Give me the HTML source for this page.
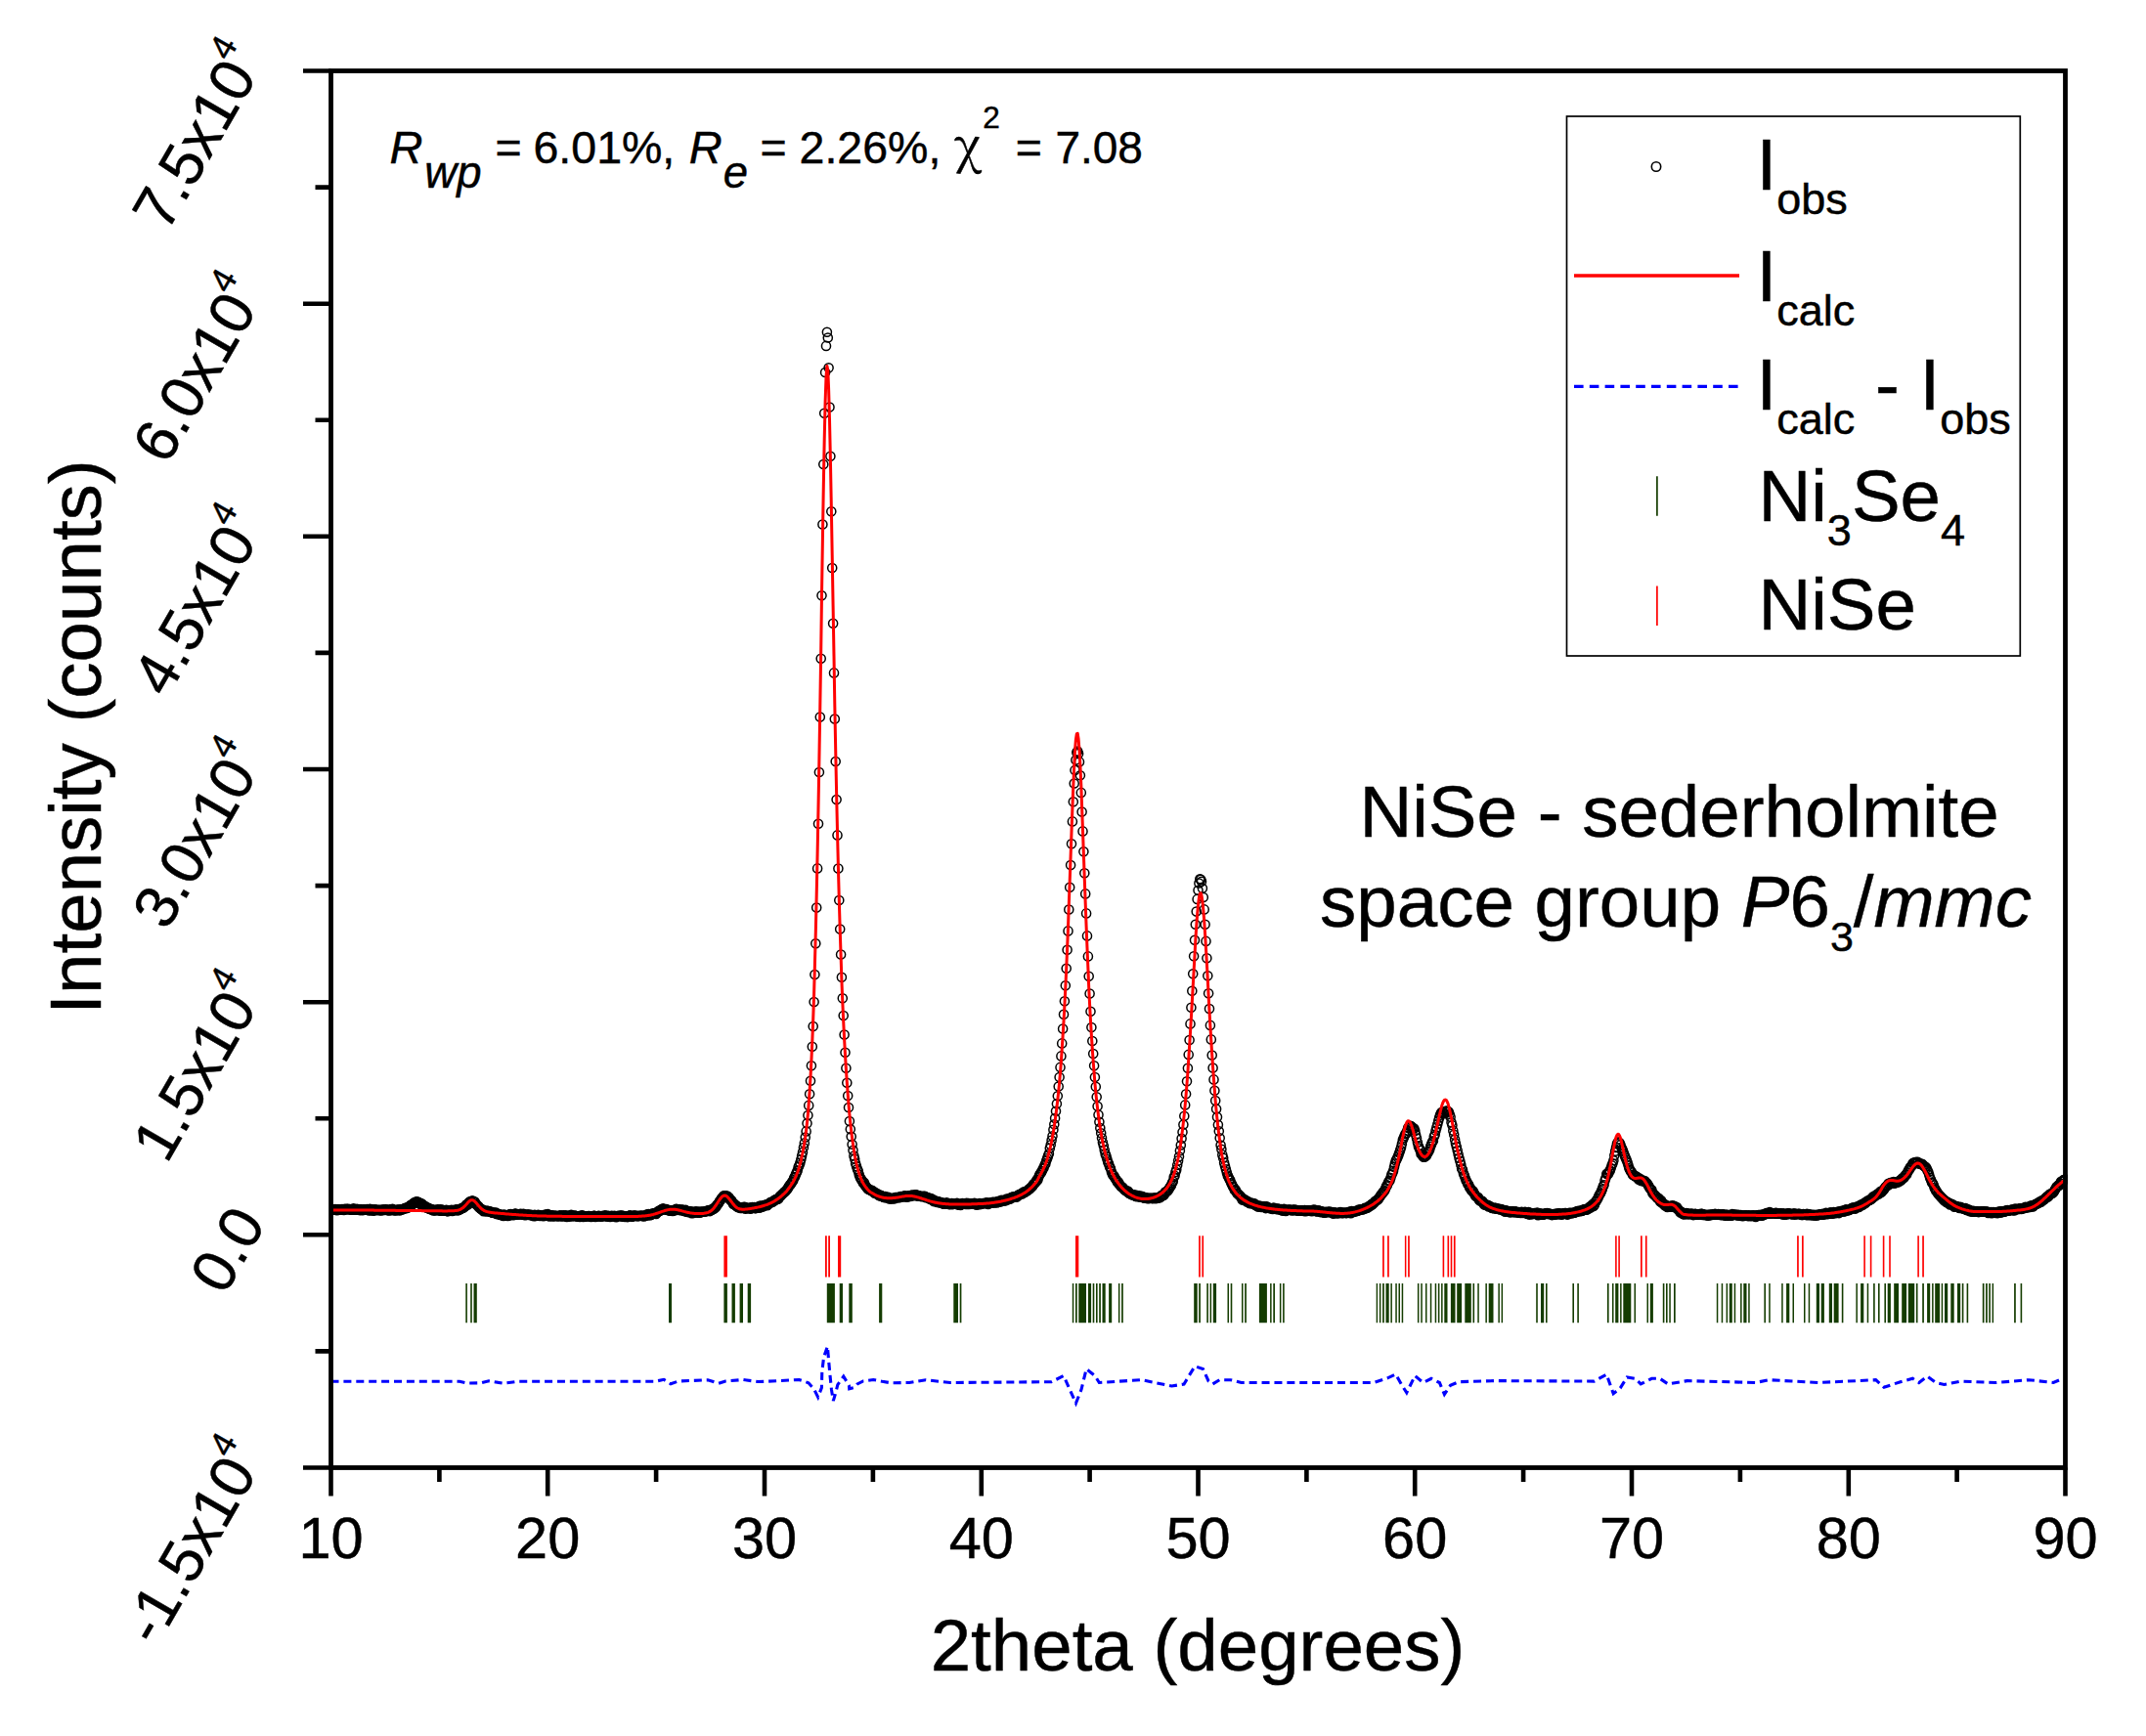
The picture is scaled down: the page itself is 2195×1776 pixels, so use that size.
<!DOCTYPE html>
<html lang="en"><head><meta charset="utf-8"><title>NiSe Rietveld refinement</title>
<style>html,body{margin:0;padding:0;background:#fff}body{width:2195px;height:1776px;overflow:hidden}svg{display:block}text{font-family:"Liberation Sans",sans-serif;fill:#000;stroke:#000;stroke-width:0.45px}.i{font-style:italic}</style></head><body>
<svg width="2195" height="1776" viewBox="0 0 2195 1776">
<rect width="2195" height="1776" fill="#fff"/>
<defs><marker id="c" markerUnits="userSpaceOnUse" markerWidth="14" markerHeight="14" refX="7" refY="7" overflow="visible"><circle cx="7" cy="7" r="4.55" fill="none" stroke="#000" stroke-width="1.5"/></marker><clipPath id="cp"><rect x="338.5" y="72.5" width="1776.5" height="1429.0"/></clipPath></defs>
<g clip-path="url(#cp)"><polyline fill="none" stroke="none" marker-start="url(#c)" marker-mid="url(#c)" marker-end="url(#c)" points="338.5,1237.6 339.4,1237.7 340.3,1237.5 341.2,1237.2 342,1237.4 342.9,1237.1 343.8,1237.6 344.7,1238.3 345.6,1237.4 346.5,1237.3 347.4,1237.8 348.3,1237.8 349.1,1237.7 350,1237.1 350.9,1237.6 351.8,1238 352.7,1236.9 353.6,1237.4 354.5,1236.7 355.4,1237 356.2,1236.7 357.1,1237.5 358,1237 358.9,1237.8 359.8,1237.7 360.7,1237.5 361.6,1236.4 362.4,1237.4 363.3,1237.6 364.2,1237.7 365.1,1236.9 366,1237.4 366.9,1237.2 367.8,1237.3 368.7,1238.2 369.5,1237.3 370.4,1237.7 371.3,1238.1 372.2,1237.4 373.1,1237.6 374,1237.7 374.9,1237.7 375.8,1237.1 376.6,1237.7 377.5,1238.4 378.4,1236.9 379.3,1238.2 380.2,1237.8 381.1,1237.4 382,1238.7 382.9,1238.1 383.7,1237.2 384.6,1237.8 385.5,1238.1 386.4,1237.7 387.3,1238.1 388.2,1237.8 389.1,1238.1 389.9,1238.5 390.8,1237.5 391.7,1237.9 392.6,1237.6 393.5,1237.9 394.4,1237.3 395.3,1237.6 396.2,1237.8 397,1238.3 397.9,1238.5 398.8,1237.2 399.7,1237.5 400.6,1238.2 401.5,1236.9 402.4,1237.7 403.3,1237.9 404.1,1238.5 405,1238.2 405.9,1237.7 406.8,1237.6 407.7,1237.7 408.6,1238.5 409.5,1237.4 410.3,1237.3 411.2,1237.5 412.1,1237.1 413,1236.8 413.9,1236 414.8,1236.2 415.7,1235.5 416.6,1235.9 417.4,1235.1 418.3,1234.2 419.2,1233.9 420.1,1232.8 421,1232.9 421.9,1231.8 422.8,1231.6 423.7,1230.2 424.5,1230.7 425.4,1229.5 426.3,1229.2 427.2,1230.1 428.1,1229.9 429,1230.7 429.9,1232.1 430.7,1231.1 431.6,1231.7 432.5,1232.7 433.4,1233.5 434.3,1233.8 435.2,1234.4 436.1,1235.4 437,1235.8 437.8,1235.6 438.7,1236.5 439.6,1236.9 440.5,1236.7 441.4,1237.6 442.3,1237.3 443.2,1238.4 444.1,1238.1 444.9,1238.2 445.8,1237.9 446.7,1238.2 447.6,1237.3 448.5,1237.8 449.4,1238.6 450.3,1237.3 451.1,1238.8 452,1237.6 452.9,1238.8 453.8,1238 454.7,1238.8 455.6,1238.5 456.5,1237.7 457.4,1239.1 458.2,1239.2 459.1,1238.4 460,1238.3 460.9,1238.3 461.8,1237.9 462.7,1238.9 463.6,1238.1 464.5,1238.2 465.3,1237.8 466.2,1237.8 467.1,1237.3 468,1238.4 468.9,1237.5 469.8,1237.8 470.7,1237.1 471.6,1236.4 472.4,1236.3 473.3,1235.7 474.2,1235.4 475.1,1234.6 476,1233.9 476.9,1232.6 477.8,1232.1 478.6,1232.4 479.5,1230.3 480.4,1229.4 481.3,1229.5 482.2,1229.7 483.1,1228.2 484,1229 484.9,1229.3 485.7,1229.5 486.6,1231.7 487.5,1232.3 488.4,1233.4 489.3,1234 490.2,1235.6 491.1,1236.1 492,1237.1 492.8,1237.2 493.7,1237.6 494.6,1239.2 495.5,1238.6 496.4,1239.1 497.3,1239.1 498.2,1238.9 499,1238.9 499.9,1239.5 500.8,1239.3 501.7,1239.6 502.6,1240 503.5,1240.8 504.4,1240.8 505.3,1240.9 506.1,1240.7 507,1240.5 507.9,1241.9 508.8,1242.1 509.7,1241.8 510.6,1242.3 511.5,1242.7 512.4,1242.9 513.2,1243.2 514.1,1242.7 515,1243.9 515.9,1242.5 516.8,1243.5 517.7,1243.3 518.6,1243.4 519.4,1243.9 520.3,1243.6 521.2,1242.3 522.1,1242 523,1243.2 523.9,1242.2 524.8,1242.7 525.7,1243.1 526.5,1241.8 527.4,1241.5 528.3,1242.6 529.2,1242.5 530.1,1242.3 531,1242.5 531.9,1242.1 532.8,1241.8 533.6,1242.6 534.5,1242.2 535.4,1241.9 536.3,1243.1 537.2,1242.8 538.1,1243.1 539,1242.5 539.8,1242.7 540.7,1242.6 541.6,1242.7 542.5,1243.3 543.4,1242.8 544.3,1243.4 545.2,1243.5 546.1,1244.3 546.9,1242.7 547.8,1243.9 548.7,1243.4 549.6,1243.5 550.5,1242.8 551.4,1243.3 552.3,1243.9 553.2,1243.6 554,1243.7 554.9,1243.5 555.8,1244.3 556.7,1243.7 557.6,1242.6 558.5,1243.4 559.4,1242.8 560.3,1242.1 561.1,1243.5 562,1244.5 562.9,1243.8 563.8,1243.2 564.7,1243.4 565.6,1244.4 566.5,1243.9 567.3,1243.9 568.2,1243.8 569.1,1243.9 570,1244.3 570.9,1244.2 571.8,1244 572.7,1243.4 573.6,1244.2 574.4,1243.6 575.3,1244.5 576.2,1243.3 577.1,1243.9 578,1244 578.9,1243.3 579.8,1244.9 580.7,1244.7 581.5,1243.8 582.4,1244.4 583.3,1244.2 584.2,1242.7 585.1,1244.2 586,1244 586.9,1244.1 587.7,1243.5 588.6,1243.9 589.5,1244 590.4,1244.7 591.3,1244.3 592.2,1244.1 593.1,1244.9 594,1243.8 594.8,1243.9 595.7,1243.2 596.6,1244.9 597.5,1244.6 598.4,1244.6 599.3,1244.5 600.2,1244.2 601.1,1244.3 601.9,1244 602.8,1244.1 603.7,1244.2 604.6,1244.9 605.5,1244.5 606.4,1244.2 607.3,1243.9 608.1,1243.9 609,1245 609.9,1244.5 610.8,1244.2 611.7,1244 612.6,1243.7 613.5,1244.2 614.4,1244.7 615.2,1244 616.1,1244.1 617,1244.1 617.9,1244.3 618.8,1243.4 619.7,1244.1 620.6,1243.8 621.5,1244.7 622.3,1243.8 623.2,1244.5 624.1,1245 625,1244.1 625.9,1243.9 626.8,1244.3 627.7,1244.2 628.5,1243.7 629.4,1244.4 630.3,1245.2 631.2,1244.1 632.1,1244.1 633,1243.7 633.9,1244.3 634.8,1243.6 635.6,1243.6 636.5,1244.8 637.4,1243.7 638.3,1244.7 639.2,1244.9 640.1,1244.3 641,1244.4 641.9,1245.1 642.7,1244 643.6,1243.8 644.5,1243.4 645.4,1244.1 646.3,1244.8 647.2,1244.6 648.1,1243.6 649,1243.6 649.8,1243.8 650.7,1244.1 651.6,1243.9 652.5,1244.1 653.4,1244.1 654.3,1243.7 655.2,1243.8 656,1243.9 656.9,1243.7 657.8,1243.9 658.7,1244.5 659.6,1243.8 660.5,1243.5 661.4,1242.5 662.3,1243.4 663.1,1242.1 664,1242.2 664.9,1243.2 665.8,1242.9 666.7,1242.3 667.6,1241.3 668.5,1241.8 669.4,1241.4 670.2,1241.7 671.1,1242 672,1240.5 672.9,1239.5 673.8,1238.8 674.7,1238.9 675.6,1238.3 676.4,1237.3 677.3,1237.4 678.2,1236.3 679.1,1237 680,1237.2 680.9,1237.6 681.8,1237.1 682.7,1238 683.5,1238 684.4,1238.3 685.3,1238.8 686.2,1238.6 687.1,1238.2 688,1239 688.9,1238.2 689.8,1238.1 690.6,1238.3 691.5,1236.8 692.4,1237.1 693.3,1237.5 694.2,1237.5 695.1,1237.3 696,1238.2 696.8,1238 697.7,1237.5 698.6,1237.8 699.5,1238.9 700.4,1238.9 701.3,1237.9 702.2,1239.7 703.1,1239.5 703.9,1240.1 704.8,1239.4 705.7,1239.5 706.6,1239.2 707.5,1241.2 708.4,1239.9 709.3,1240.9 710.2,1239.8 711,1240.3 711.9,1239.4 712.8,1240.1 713.7,1240.8 714.6,1239.6 715.5,1240.8 716.4,1240.4 717.2,1239.6 718.1,1239.8 719,1239.8 719.9,1239.8 720.8,1239.5 721.7,1239.2 722.6,1239.2 723.5,1238.6 724.3,1238.3 725.2,1238.8 726.1,1239.1 727,1237.6 727.9,1238 728.8,1237.2 729.7,1236.4 730.6,1236.5 731.4,1235 732.3,1235 733.2,1232.8 734.1,1232.3 735,1230.9 735.9,1229 736.8,1228.2 737.7,1226.4 738.5,1225.6 739.4,1224.4 740.3,1223.2 741.2,1223.2 742.1,1223.2 743,1224 743.9,1223.6 744.7,1224.9 745.6,1225 746.5,1227.2 747.4,1227.5 748.3,1228.3 749.2,1230.2 750.1,1231.9 751,1231.5 751.8,1232.6 752.7,1233.5 753.6,1233.9 754.5,1235.1 755.4,1234.8 756.3,1235.1 757.2,1235.9 758.1,1235.3 758.9,1235.9 759.8,1235.1 760.7,1235.1 761.6,1234.8 762.5,1236.7 763.4,1235.7 764.3,1236 765.1,1235.9 766,1236 766.9,1235.9 767.8,1236.8 768.7,1235.3 769.6,1235.1 770.5,1235.3 771.4,1235.1 772.2,1236.1 773.1,1236.1 774,1235.1 774.9,1234.8 775.8,1235.1 776.7,1235.8 777.6,1233.5 778.5,1234.9 779.3,1233.8 780.2,1234.6 781.1,1233.3 782,1233.4 782.9,1232.5 783.8,1232.5 784.7,1233.3 785.5,1232.6 786.4,1231.6 787.3,1230.9 788.2,1229.9 789.1,1230.1 790,1229.8 790.9,1229.2 791.8,1228.6 792.6,1227.5 793.5,1227.4 794.4,1226.8 795.3,1226.8 796.2,1226.4 797.1,1224.7 798,1223.6 798.9,1223.2 799.7,1222.1 800.6,1221.2 801.5,1220.6 802.4,1219.2 803.3,1219 804.2,1217.7 805.1,1216.8 805.9,1215.5 806.8,1214 807.7,1212.6 808.6,1211.7 809.5,1210.2 810.4,1209.1 811.3,1207.4 812.2,1205.1 813,1204 813.9,1201.4 814.8,1199.6 815.7,1197.5 816.6,1194 817.5,1192.3 818.4,1189.5 819.3,1186.3 820.1,1182.6 821,1178.7 821.9,1174 822.8,1169.4 823.7,1163.6 824.6,1157.4 825.5,1149.3 826.4,1141.1 827.2,1130.9 828.1,1119.3 829,1105.7 829.9,1090.3 830.8,1070.7 831.7,1050.1 832.6,1025 833.4,997.1 834.3,965.3 835.2,928.6 836.1,888.4 837,842.8 837.9,790 838.8,733.6 839.7,673.8 840.5,609.2 841.4,536.5 842.3,475 843.2,422.7 844.1,381 845,353.9 845.9,339.7 846.8,345.5 847.6,376.3 848.5,416.5 849.4,466.8 850.3,523.2 851.2,581.1 852.1,637.7 853,688.4 853.8,735.5 854.7,779 855.6,818 856.5,854.4 857.4,888.6 858.3,921 859.2,950.5 860.1,976.6 860.9,999.8 861.8,1021.2 862.7,1039 863.6,1058.6 864.5,1076.7 865.4,1092.8 866.3,1107.8 867.2,1121 868,1133 868.9,1147.1 869.8,1155.2 870.7,1162.7 871.6,1170.8 872.5,1176.8 873.4,1182.5 874.2,1185.8 875.1,1190.2 876,1193.3 876.9,1196 877.8,1198.1 878.7,1201.6 879.6,1204.3 880.5,1205.9 881.3,1207 882.2,1208.7 883.1,1210.4 884,1209.9 884.9,1212.5 885.8,1213.9 886.7,1214.9 887.6,1216.2 888.4,1216.7 889.3,1216.9 890.2,1217.5 891.1,1218.2 892,1217.9 892.9,1218.5 893.8,1219.5 894.6,1220.7 895.5,1220.2 896.4,1220.8 897.3,1221.5 898.2,1222.6 899.1,1222.4 900,1223.6 900.9,1222.8 901.7,1223.6 902.6,1223.9 903.5,1224.7 904.4,1225.1 905.3,1224.1 906.2,1224.6 907.1,1225.5 908,1225.2 908.8,1224.9 909.7,1226.4 910.6,1226.2 911.5,1226.3 912.4,1225.7 913.3,1226.4 914.2,1225.7 915.1,1226.2 915.9,1225.1 916.8,1225 917.7,1225.3 918.6,1224.7 919.5,1225.3 920.4,1224.9 921.3,1224.1 922.1,1224.4 923,1224 923.9,1224.4 924.8,1223.5 925.7,1223.4 926.6,1224.2 927.5,1224.6 928.4,1224.4 929.2,1223.4 930.1,1223.4 931,1224 931.9,1223 932.8,1222.5 933.7,1223.1 934.6,1223.2 935.5,1222.6 936.3,1222.2 937.2,1222.4 938.1,1223.6 939,1223 939.9,1223.4 940.8,1223.7 941.7,1224 942.5,1223.7 943.4,1224.2 944.3,1223.7 945.2,1224.1 946.1,1223.9 947,1225.2 947.9,1225 948.8,1225 949.6,1225.6 950.5,1226 951.4,1226.9 952.3,1226.1 953.2,1226.7 954.1,1227.3 955,1229.1 955.9,1228.6 956.7,1228.4 957.6,1229.1 958.5,1230 959.4,1229.2 960.3,1229.3 961.2,1230.4 962.1,1230.2 962.9,1230.5 963.8,1230.2 964.7,1231.6 965.6,1231.7 966.5,1231.3 967.4,1231.5 968.3,1230.3 969.2,1231.8 970,1231.5 970.9,1232 971.8,1232.2 972.7,1231.7 973.6,1231.1 974.5,1232.1 975.4,1231.6 976.3,1231.8 977.1,1231.7 978,1231.8 978.9,1230.8 979.8,1232.6 980.7,1232.1 981.6,1232.5 982.5,1232.9 983.3,1231.9 984.2,1231 985.1,1231.4 986,1231.3 986.9,1231.6 987.8,1231.9 988.7,1230.8 989.6,1232 990.4,1231 991.3,1231.9 992.2,1231.7 993.1,1231.6 994,1231.7 994.9,1231.4 995.8,1231.4 996.7,1230.8 997.5,1231.6 998.4,1232.5 999.3,1232.5 1000.2,1232.2 1001.1,1231.8 1002,1231.1 1002.9,1232.1 1003.8,1231.3 1004.6,1231.2 1005.5,1231.1 1006.4,1231.2 1007.3,1230.9 1008.2,1231 1009.1,1230.4 1010,1230.7 1010.8,1231.9 1011.7,1230.7 1012.6,1230.5 1013.5,1230.8 1014.4,1230.8 1015.3,1229.7 1016.2,1230.1 1017.1,1230.5 1017.9,1230 1018.8,1229.8 1019.7,1230.4 1020.6,1229.1 1021.5,1229.3 1022.4,1228.8 1023.3,1229.6 1024.2,1227.7 1025,1228.2 1025.9,1228 1026.8,1228.4 1027.7,1228.2 1028.6,1228.3 1029.5,1226.6 1030.4,1227.5 1031.2,1226.8 1032.1,1226.3 1033,1226.7 1033.9,1225.6 1034.8,1224.8 1035.7,1225.3 1036.6,1224.4 1037.5,1224.5 1038.3,1224.7 1039.2,1224.3 1040.1,1224.6 1041,1223.3 1041.9,1222.2 1042.8,1222.2 1043.7,1221.7 1044.6,1221.1 1045.4,1221.5 1046.3,1220.4 1047.2,1219.2 1048.1,1220 1049,1219 1049.9,1218.7 1050.8,1217.9 1051.6,1217.5 1052.5,1216.5 1053.4,1216.3 1054.3,1215.1 1055.2,1214.3 1056.1,1213.4 1057,1211.5 1057.9,1211.1 1058.7,1210 1059.6,1209.1 1060.5,1207.1 1061.4,1207.2 1062.3,1204.2 1063.2,1202.1 1064.1,1200.4 1065,1199.6 1065.8,1198 1066.7,1195.9 1067.6,1194.5 1068.5,1192 1069.4,1190.4 1070.3,1187.3 1071.2,1185 1072,1182.6 1072.9,1180.2 1073.8,1174.8 1074.7,1171.2 1075.6,1166.6 1076.5,1162.3 1077.4,1155.8 1078.3,1150.3 1079.1,1144.1 1080,1136.7 1080.9,1129.3 1081.8,1121.3 1082.7,1111.5 1083.6,1102.1 1084.5,1091.9 1085.4,1080.4 1086.2,1067.4 1087.1,1052.5 1088,1037.8 1088.9,1024.2 1089.8,1008.3 1090.7,990.8 1091.6,971.8 1092.5,952.4 1093.3,930.5 1094.2,907.8 1095.1,885.1 1096,863.2 1096.9,840.4 1097.8,820.2 1098.7,801.5 1099.5,787.9 1100.4,777.6 1101.3,769.8 1102.2,768.6 1103.1,771.1 1104,779.4 1104.9,793.3 1105.8,810.9 1106.6,830.6 1107.5,850.4 1108.4,871.2 1109.3,893.3 1110.2,914.4 1111.1,934.4 1112,957.4 1112.9,978.4 1113.7,998.8 1114.6,1016.5 1115.5,1034.7 1116.4,1051.1 1117.3,1065 1118.2,1078 1119.1,1090.2 1119.9,1102.1 1120.8,1111.7 1121.7,1122.2 1122.6,1131.8 1123.5,1140.6 1124.4,1147.8 1125.3,1154.1 1126.2,1159.2 1127,1164.3 1127.9,1168.7 1128.8,1172.3 1129.7,1176.6 1130.6,1180.5 1131.5,1182.7 1132.4,1186 1133.3,1189.2 1134.1,1190.8 1135,1193.8 1135.9,1195.3 1136.8,1198.4 1137.7,1200.9 1138.6,1202.5 1139.5,1203 1140.3,1205 1141.2,1206.2 1142.1,1207.5 1143,1209.5 1143.9,1209.3 1144.8,1211.6 1145.7,1212.2 1146.6,1213.9 1147.4,1214.3 1148.3,1214.8 1149.2,1216.1 1150.1,1217.2 1151,1217.6 1151.9,1218.6 1152.8,1218.7 1153.7,1218.5 1154.5,1220.6 1155.4,1221.1 1156.3,1221.3 1157.2,1221.8 1158.1,1222.6 1159,1222.2 1159.9,1222.4 1160.7,1223 1161.6,1223.9 1162.5,1222.8 1163.4,1224.3 1164.3,1223.5 1165.2,1223.4 1166.1,1224.8 1167,1224.2 1167.8,1223.7 1168.7,1224.4 1169.6,1225.3 1170.5,1225.7 1171.4,1225.1 1172.3,1225.7 1173.2,1226.1 1174.1,1225.5 1174.9,1226.1 1175.8,1226 1176.7,1225.8 1177.6,1225.8 1178.5,1226.1 1179.4,1226 1180.3,1225.6 1181.2,1225.5 1182,1226.2 1182.9,1225.6 1183.8,1225.7 1184.7,1225.5 1185.6,1224.9 1186.5,1225.3 1187.4,1223.4 1188.2,1223.7 1189.1,1222.5 1190,1223 1190.9,1222.2 1191.8,1219.6 1192.7,1219.3 1193.6,1219.1 1194.5,1218.1 1195.3,1216.9 1196.2,1215.2 1197.1,1214.1 1198,1212.6 1198.9,1210.3 1199.8,1208.5 1200.7,1204.3 1201.6,1202.8 1202.4,1198.9 1203.3,1196.4 1204.2,1191.9 1205.1,1187.4 1206,1183.2 1206.9,1177.3 1207.8,1171.5 1208.6,1164.7 1209.5,1158.3 1210.4,1150.6 1211.3,1141.8 1212.2,1130.4 1213.1,1119.3 1214,1106.3 1214.9,1092.8 1215.7,1078.9 1216.6,1064 1217.5,1047.4 1218.4,1030.8 1219.3,1013.7 1220.2,996.3 1221.1,978.3 1222,961.8 1222.8,945.8 1223.7,932.6 1224.6,919.9 1225.5,910.7 1226.4,903.5 1227.3,899.2 1228.2,899.8 1229,901.8 1229.9,908.7 1230.8,918 1231.7,930.4 1232.6,945.8 1233.5,962.9 1234.4,980.2 1235.3,998.2 1236.1,1016.2 1237,1032 1237.9,1048.9 1238.8,1063.4 1239.7,1079.5 1240.6,1092.5 1241.5,1104.4 1242.4,1115.7 1243.2,1126 1244.1,1134.5 1245,1142.8 1245.9,1150.8 1246.8,1157.2 1247.7,1164.2 1248.6,1171.5 1249.4,1175.7 1250.3,1181.4 1251.2,1184.8 1252.1,1189.6 1253,1192.9 1253.9,1196.2 1254.8,1199.4 1255.7,1202.6 1256.5,1204.2 1257.4,1206.3 1258.3,1207.6 1259.2,1210.3 1260.1,1211.7 1261,1214 1261.9,1215.1 1262.8,1217.5 1263.6,1217 1264.5,1219.1 1265.4,1220.9 1266.3,1221.4 1267.2,1222.3 1268.1,1223.6 1269,1224 1269.9,1225.6 1270.7,1227.5 1271.6,1227.4 1272.5,1226.9 1273.4,1227.6 1274.3,1228.3 1275.2,1229.5 1276.1,1229.1 1276.9,1229.6 1277.8,1230.8 1278.7,1231.2 1279.6,1231 1280.5,1230.9 1281.4,1231.1 1282.3,1231.8 1283.2,1231.4 1284,1233.1 1284.9,1232.7 1285.8,1233.5 1286.7,1234.5 1287.6,1234.4 1288.5,1233.5 1289.4,1234.7 1290.3,1235 1291.1,1234.3 1292,1234.4 1292.9,1235 1293.8,1234.4 1294.7,1236.1 1295.6,1234.3 1296.5,1235.1 1297.3,1235.7 1298.2,1235.8 1299.1,1236.2 1300,1236.3 1300.9,1236.2 1301.8,1237 1302.7,1235.5 1303.6,1236.7 1304.4,1236.4 1305.3,1236.9 1306.2,1237.1 1307.1,1236.6 1308,1236.8 1308.9,1237.6 1309.8,1237.5 1310.7,1237 1311.5,1238.4 1312.4,1238.6 1313.3,1236.8 1314.2,1237.8 1315.1,1238.9 1316,1238.1 1316.9,1237.9 1317.7,1237.7 1318.6,1237.6 1319.5,1237.8 1320.4,1237.7 1321.3,1238.4 1322.2,1237.9 1323.1,1237.9 1324,1237.6 1324.8,1238.2 1325.7,1237.8 1326.6,1238.2 1327.5,1238.8 1328.4,1238.5 1329.3,1238.6 1330.2,1238.6 1331.1,1238.4 1331.9,1238.4 1332.8,1238.3 1333.7,1238.9 1334.6,1238 1335.5,1239.2 1336.4,1238.6 1337.3,1238.2 1338.1,1238.3 1339,1238.2 1339.9,1238.7 1340.8,1238.3 1341.7,1239.2 1342.6,1238.3 1343.5,1237.6 1344.4,1238.4 1345.2,1237.8 1346.1,1238.9 1347,1239.5 1347.9,1239.3 1348.8,1238.4 1349.7,1238.8 1350.6,1240.1 1351.5,1239.5 1352.3,1239.4 1353.2,1240 1354.1,1240.8 1355,1240.4 1355.9,1239.9 1356.8,1240.1 1357.7,1240.3 1358.6,1239.8 1359.4,1239.6 1360.3,1240.3 1361.2,1239.9 1362.1,1240.4 1363,1240.6 1363.9,1241.7 1364.8,1240.2 1365.6,1240.7 1366.5,1240.7 1367.4,1241 1368.3,1241.4 1369.2,1240.7 1370.1,1240.5 1371,1240.1 1371.9,1240.5 1372.7,1241.3 1373.6,1241 1374.5,1240.5 1375.4,1240.7 1376.3,1240.9 1377.2,1241.1 1378.1,1240.5 1379,1240.6 1379.8,1239.7 1380.7,1239.9 1381.6,1241.2 1382.5,1239.1 1383.4,1239.9 1384.3,1240 1385.2,1239.5 1386,1239.1 1386.9,1239.2 1387.8,1239 1388.7,1238.7 1389.6,1237.5 1390.5,1238.1 1391.4,1237.5 1392.3,1237.3 1393.1,1237.4 1394,1237.2 1394.9,1237 1395.8,1235.9 1396.7,1236.3 1397.6,1236 1398.5,1235.5 1399.4,1235.2 1400.2,1234 1401.1,1233.5 1402,1233.5 1402.9,1231.9 1403.8,1232.2 1404.7,1231.2 1405.6,1230.6 1406.4,1229.1 1407.3,1228.5 1408.2,1228 1409.1,1227.5 1410,1226.5 1410.9,1224.9 1411.8,1223.7 1412.7,1222.2 1413.5,1221.6 1414.4,1220 1415.3,1219.1 1416.2,1218.3 1417.1,1215.9 1418,1213.6 1418.9,1212.4 1419.8,1210.3 1420.6,1208.5 1421.5,1207.7 1422.4,1205 1423.3,1201.7 1424.2,1200.3 1425.1,1197.8 1426,1193.9 1426.8,1190.5 1427.7,1187.4 1428.6,1185.9 1429.5,1183.9 1430.4,1181.8 1431.3,1179.3 1432.2,1176.5 1433.1,1173.7 1433.9,1170.3 1434.8,1166.3 1435.7,1164.2 1436.6,1162.1 1437.5,1159.9 1438.4,1159.4 1439.3,1156.7 1440.2,1153.8 1441,1153.4 1441.9,1152 1442.8,1151.7 1443.7,1152.5 1444.6,1153.6 1445.5,1154.5 1446.4,1154.5 1447.3,1157 1448.1,1161.1 1449,1164.6 1449.9,1168.7 1450.8,1172.4 1451.7,1174.5 1452.6,1176.7 1453.5,1180.6 1454.3,1181.3 1455.2,1182.5 1456.1,1183.8 1457,1183.7 1457.9,1182.6 1458.8,1182.5 1459.7,1180.6 1460.6,1178.9 1461.4,1177.7 1462.3,1175.8 1463.2,1172.7 1464.1,1170.6 1465,1168.2 1465.9,1167.2 1466.8,1162.7 1467.7,1160.7 1468.5,1156.8 1469.4,1153.4 1470.3,1150.3 1471.2,1146.8 1472.1,1143.5 1473,1140.7 1473.9,1138.8 1474.7,1137.8 1475.6,1137.8 1476.5,1138 1477.4,1139.3 1478.3,1137 1479.2,1136.5 1480.1,1136.7 1481,1136.9 1481.8,1137.6 1482.7,1140 1483.6,1142.7 1484.5,1148.2 1485.4,1151.3 1486.3,1156.7 1487.2,1160.8 1488.1,1165.8 1488.9,1169.7 1489.8,1173.2 1490.7,1177.1 1491.6,1181 1492.5,1184.7 1493.4,1187.9 1494.3,1191.5 1495.1,1195.5 1496,1196.7 1496.9,1200.4 1497.8,1202.4 1498.7,1205.2 1499.6,1207.7 1500.5,1209.2 1501.4,1211.5 1502.2,1212 1503.1,1214.9 1504,1215.5 1504.9,1217.5 1505.8,1218.5 1506.7,1218.4 1507.6,1220.4 1508.5,1222 1509.3,1223.7 1510.2,1224.1 1511.1,1225 1512,1225.1 1512.9,1227.4 1513.8,1228.4 1514.7,1228.3 1515.5,1228.9 1516.4,1228.9 1517.3,1230.9 1518.2,1232.4 1519.1,1232.1 1520,1232.9 1520.9,1233.1 1521.8,1232.9 1522.6,1234.5 1523.5,1233.7 1524.4,1234.6 1525.3,1235.2 1526.2,1235.9 1527.1,1235.9 1528,1236.2 1528.9,1235.9 1529.7,1235.9 1530.6,1236.8 1531.5,1236.7 1532.4,1236.6 1533.3,1236.9 1534.2,1237.5 1535.1,1237 1536,1237.5 1536.8,1237.5 1537.7,1238.6 1538.6,1238.8 1539.5,1239.8 1540.4,1238.2 1541.3,1238.7 1542.2,1239.6 1543,1239.2 1543.9,1239.3 1544.8,1240.4 1545.7,1239.5 1546.6,1239.2 1547.5,1239.2 1548.4,1240.1 1549.3,1240.2 1550.1,1239.4 1551,1239.7 1551.9,1240.5 1552.8,1240.6 1553.7,1240.1 1554.6,1240.8 1555.5,1240.9 1556.4,1239.8 1557.2,1240.6 1558.1,1241 1559,1240.6 1559.9,1239.9 1560.8,1240.9 1561.7,1241.5 1562.6,1241.9 1563.4,1240.1 1564.3,1242.6 1565.2,1240.8 1566.1,1241.9 1567,1242.1 1567.9,1242 1568.8,1241.6 1569.7,1241 1570.5,1242 1571.4,1241.3 1572.3,1240.5 1573.2,1243.2 1574.1,1242.2 1575,1242.8 1575.9,1241.4 1576.8,1242.7 1577.6,1242.7 1578.5,1242.8 1579.4,1242 1580.3,1241.4 1581.2,1242 1582.1,1241 1583,1241.2 1583.8,1242.1 1584.7,1241.6 1585.6,1242 1586.5,1242.1 1587.4,1243.1 1588.3,1242.8 1589.2,1242.1 1590.1,1242.7 1590.9,1241.7 1591.8,1241.9 1592.7,1242.5 1593.6,1241.4 1594.5,1241.9 1595.4,1241.3 1596.3,1242 1597.2,1242.7 1598,1241.5 1598.9,1241.9 1599.8,1241.3 1600.7,1241.1 1601.6,1241 1602.5,1242.2 1603.4,1242.6 1604.2,1241.6 1605.1,1240.9 1606,1241.5 1606.9,1240.8 1607.8,1241.3 1608.7,1240.9 1609.6,1240.7 1610.5,1240.8 1611.3,1240 1612.2,1239.9 1613.1,1239.1 1614,1239.5 1614.9,1238.8 1615.8,1239.2 1616.7,1238.6 1617.6,1238.9 1618.4,1238.8 1619.3,1237.5 1620.2,1237.5 1621.1,1237.1 1622,1237.6 1622.9,1237.7 1623.8,1236.9 1624.7,1235.8 1625.5,1236.3 1626.4,1234.3 1627.3,1235.2 1628.2,1233.6 1629.1,1231.9 1630,1233.9 1630.9,1232.4 1631.7,1229.8 1632.6,1229 1633.5,1227.3 1634.4,1225.9 1635.3,1223.4 1636.2,1222 1637.1,1220.6 1638,1218.4 1638.8,1216.6 1639.7,1213.7 1640.6,1212.2 1641.5,1207.8 1642.4,1205.2 1643.3,1201 1644.2,1200.6 1645.1,1200.9 1645.9,1198.4 1646.8,1197.4 1647.7,1195 1648.6,1192.3 1649.5,1190.2 1650.4,1187.2 1651.3,1182 1652.1,1177.8 1653,1173.9 1653.9,1170.3 1654.8,1168.5 1655.7,1168.6 1656.6,1169.2 1657.5,1171.3 1658.4,1173.9 1659.2,1175.4 1660.1,1177.6 1661,1180.3 1661.9,1182.5 1662.8,1184.8 1663.7,1186.8 1664.6,1189.3 1665.5,1192.2 1666.3,1195.2 1667.2,1196.7 1668.1,1198.4 1669,1199.3 1669.9,1201.8 1670.8,1201.9 1671.7,1203.1 1672.5,1202.9 1673.4,1204.1 1674.3,1203.9 1675.2,1205.1 1676.1,1206.8 1677,1205.5 1677.9,1207.6 1678.8,1208.1 1679.6,1207.4 1680.5,1207.7 1681.4,1208.4 1682.3,1208.1 1683.2,1209.6 1684.1,1210 1685,1211.3 1685.9,1212.6 1686.7,1214.2 1687.6,1215.6 1688.5,1217 1689.4,1217.2 1690.3,1220.4 1691.2,1221.4 1692.1,1222.4 1692.9,1222.9 1693.8,1224.1 1694.7,1225.3 1695.6,1226 1696.5,1225.7 1697.4,1227.5 1698.3,1229.5 1699.2,1228.2 1700,1230.6 1700.9,1231.3 1701.8,1231.8 1702.7,1233.3 1703.6,1232.6 1704.5,1233.9 1705.4,1235 1706.3,1234.5 1707.1,1234.1 1708,1234.2 1708.9,1233.7 1709.8,1234.7 1710.7,1233.4 1711.6,1234.5 1712.5,1233.8 1713.4,1235.3 1714.2,1235.6 1715.1,1235.1 1716,1237.2 1716.9,1237.5 1717.8,1238.7 1718.7,1240.5 1719.6,1239.8 1720.4,1240.4 1721.3,1242.1 1722.2,1241.6 1723.1,1242.4 1724,1241.7 1724.9,1241 1725.8,1241.4 1726.7,1242.2 1727.5,1242.2 1728.4,1241.8 1729.3,1241.9 1730.2,1241.9 1731.1,1241.7 1732,1243.1 1732.9,1242.2 1733.8,1241.7 1734.6,1242 1735.5,1242.7 1736.4,1242.7 1737.3,1242.4 1738.2,1242.1 1739.1,1242.5 1740,1241.7 1740.8,1241.9 1741.7,1243 1742.6,1242.4 1743.5,1242.8 1744.4,1243.3 1745.3,1243 1746.2,1242.7 1747.1,1243.8 1747.9,1243 1748.8,1242.5 1749.7,1243.1 1750.6,1242.9 1751.5,1242.3 1752.4,1242.7 1753.3,1242.6 1754.2,1241.7 1755,1242.7 1755.9,1242.6 1756.8,1242.6 1757.7,1242 1758.6,1242.7 1759.5,1242.9 1760.4,1243 1761.2,1242.4 1762.1,1243.3 1763,1242.4 1763.9,1243 1764.8,1243.8 1765.7,1242.8 1766.6,1242.9 1767.5,1243.7 1768.3,1243 1769.2,1243.1 1770.1,1243.3 1771,1243.8 1771.9,1242.1 1772.8,1242.9 1773.7,1242.8 1774.6,1242.8 1775.4,1242.9 1776.3,1242.9 1777.2,1243.5 1778.1,1242.9 1779,1243.5 1779.9,1243.6 1780.8,1243.1 1781.6,1243.5 1782.5,1244.3 1783.4,1243.7 1784.3,1243.2 1785.2,1243.6 1786.1,1243.2 1787,1243.8 1787.9,1244.1 1788.7,1243.3 1789.6,1243.6 1790.5,1244.3 1791.4,1243.6 1792.3,1243.9 1793.2,1243.3 1794.1,1243.5 1795,1243.7 1795.8,1245 1796.7,1243.5 1797.6,1243.3 1798.5,1243.1 1799.4,1243.1 1800.3,1243.4 1801.2,1242.9 1802.1,1243.7 1802.9,1242.6 1803.8,1243.1 1804.7,1242.3 1805.6,1242.3 1806.5,1241.1 1807.4,1241.6 1808.3,1241.4 1809.1,1241.1 1810,1240.1 1810.9,1241.7 1811.8,1241.1 1812.7,1241.1 1813.6,1241.3 1814.5,1241.3 1815.4,1241.7 1816.2,1240.9 1817.1,1241.1 1818,1241.8 1818.9,1241.7 1819.8,1241.5 1820.7,1241.5 1821.6,1241.4 1822.5,1241.8 1823.3,1242.5 1824.2,1241.4 1825.1,1242.7 1826,1242.4 1826.9,1241.8 1827.8,1242.5 1828.7,1241.4 1829.5,1241.3 1830.4,1241.5 1831.3,1242 1832.2,1242.1 1833.1,1242 1834,1242.4 1834.9,1241.3 1835.8,1242.6 1836.6,1241.7 1837.5,1242.1 1838.4,1242.2 1839.3,1241.9 1840.2,1241.8 1841.1,1242 1842,1242.5 1842.9,1242.9 1843.7,1242.9 1844.6,1242.1 1845.5,1242.2 1846.4,1242.2 1847.3,1242.9 1848.2,1241.7 1849.1,1243.3 1849.9,1242.5 1850.8,1242.3 1851.7,1242.9 1852.6,1243.3 1853.5,1242.9 1854.4,1243.3 1855.3,1242.8 1856.2,1243.4 1857,1243.4 1857.9,1242.7 1858.8,1243.5 1859.7,1242.9 1860.6,1242.8 1861.5,1242.2 1862.4,1242.4 1863.3,1242.8 1864.1,1241.7 1865,1242.6 1865.9,1242.3 1866.8,1242.2 1867.7,1240.9 1868.6,1241.8 1869.5,1242.1 1870.3,1241.3 1871.2,1241.6 1872.1,1240.3 1873,1241.7 1873.9,1240.9 1874.8,1241.6 1875.7,1240 1876.6,1241.2 1877.4,1240.5 1878.3,1240.9 1879.2,1239.9 1880.1,1239.8 1881,1241.1 1881.9,1239.3 1882.8,1239.2 1883.7,1239.2 1884.5,1238.6 1885.4,1239.5 1886.3,1239.5 1887.2,1238.1 1888.1,1237.4 1889,1238.6 1889.9,1238.3 1890.8,1238 1891.6,1237.9 1892.5,1236.7 1893.4,1236.8 1894.3,1235.9 1895.2,1235.6 1896.1,1236.5 1897,1235.4 1897.8,1236.6 1898.7,1235.1 1899.6,1234.4 1900.5,1234.8 1901.4,1234.9 1902.3,1233.9 1903.2,1232.6 1904.1,1233 1904.9,1233 1905.8,1231.6 1906.7,1230.9 1907.6,1231.3 1908.5,1230.3 1909.4,1229.1 1910.3,1228.8 1911.2,1228 1912,1227.9 1912.9,1227.2 1913.8,1227.1 1914.7,1226.2 1915.6,1224.4 1916.5,1224.7 1917.4,1224.1 1918.2,1223 1919.1,1222.8 1920,1221.8 1920.9,1221.2 1921.8,1221.6 1922.7,1220 1923.6,1218.8 1924.5,1219.7 1925.3,1218.2 1926.2,1217.8 1927.1,1216.6 1928,1215.2 1928.9,1214.1 1929.8,1213.4 1930.7,1212.8 1931.6,1210.8 1932.4,1211.7 1933.3,1210.2 1934.2,1209.9 1935.1,1210.6 1936,1210 1936.9,1209.1 1937.8,1210.7 1938.6,1209.2 1939.5,1209.6 1940.4,1209.3 1941.3,1209.6 1942.2,1208.2 1943.1,1208.5 1944,1207 1944.9,1207.2 1945.7,1205.5 1946.6,1204.8 1947.5,1205 1948.4,1203.1 1949.3,1201.8 1950.2,1201.6 1951.1,1199.3 1952,1197.3 1952.8,1196.7 1953.7,1194.2 1954.6,1193.9 1955.5,1192.4 1956.4,1190.2 1957.3,1189.6 1958.2,1189.6 1959,1189.3 1959.9,1188.8 1960.8,1189.8 1961.7,1188.9 1962.6,1190.5 1963.5,1190.5 1964.4,1190.6 1965.3,1191.1 1966.1,1190.8 1967,1192.3 1967.9,1192.7 1968.8,1193.4 1969.7,1194.1 1970.6,1195.2 1971.5,1197.5 1972.4,1199.2 1973.2,1202.1 1974.1,1204.9 1975,1207.1 1975.9,1209.5 1976.8,1210.6 1977.7,1212.2 1978.6,1215.2 1979.5,1216.6 1980.3,1218.6 1981.2,1219.3 1982.1,1221.1 1983,1222 1983.9,1223 1984.8,1223.9 1985.7,1224.9 1986.5,1225.7 1987.4,1226.7 1988.3,1228 1989.2,1227.9 1990.1,1229.6 1991,1229.3 1991.9,1230.4 1992.8,1230.4 1993.6,1230.9 1994.5,1232.5 1995.4,1231.8 1996.3,1231.8 1997.2,1232.5 1998.1,1233.1 1999,1234.7 1999.9,1234.1 2000.7,1234.7 2001.6,1234 2002.5,1234.9 2003.4,1235.2 2004.3,1236 2005.2,1234.9 2006.1,1235.9 2006.9,1236.1 2007.8,1235.8 2008.7,1236.7 2009.6,1236.9 2010.5,1236.1 2011.4,1237.9 2012.3,1238.1 2013.2,1237.8 2014,1237.6 2014.9,1239.2 2015.8,1238.8 2016.7,1239.4 2017.6,1239.7 2018.5,1238.9 2019.4,1239.6 2020.3,1239.2 2021.1,1239.3 2022,1239.4 2022.9,1239.5 2023.8,1240.1 2024.7,1239.6 2025.6,1239.5 2026.5,1239.4 2027.3,1239.8 2028.2,1239.2 2029.1,1239.4 2030,1239.7 2030.9,1239.5 2031.8,1239.8 2032.7,1239.6 2033.6,1240.9 2034.4,1240.6 2035.3,1240.2 2036.2,1240 2037.1,1241.2 2038,1240.3 2038.9,1240.1 2039.8,1240.3 2040.7,1240.4 2041.5,1240.9 2042.4,1240.2 2043.3,1241.1 2044.2,1239.5 2045.1,1240.2 2046,1239.3 2046.9,1240.6 2047.7,1239.4 2048.6,1239.4 2049.5,1239.8 2050.4,1239.8 2051.3,1238.5 2052.2,1238.8 2053.1,1238.1 2054,1238.8 2054.8,1238.5 2055.7,1238.3 2056.6,1237.9 2057.5,1237.9 2058.4,1237.6 2059.3,1238.1 2060.2,1238.4 2061.1,1236.6 2061.9,1237.3 2062.8,1237 2063.7,1237.3 2064.6,1236.5 2065.5,1236.7 2066.4,1236.2 2067.3,1236.9 2068.2,1236.4 2069,1236.1 2069.9,1236.2 2070.8,1235.7 2071.7,1234.8 2072.6,1235.6 2073.5,1235.2 2074.4,1234.7 2075.2,1235 2076.1,1235 2077,1233.6 2077.9,1233.6 2078.8,1234.5 2079.7,1234.2 2080.6,1232.8 2081.5,1232.2 2082.3,1232.1 2083.2,1231.7 2084.1,1230.7 2085,1231 2085.9,1229.8 2086.8,1229.3 2087.7,1229.7 2088.6,1228.3 2089.4,1228 2090.3,1227.6 2091.2,1227 2092.1,1225.8 2093,1225.2 2093.9,1224 2094.8,1224.6 2095.6,1223.3 2096.5,1221.8 2097.4,1221.6 2098.3,1221.2 2099.2,1220.4 2100.1,1220.3 2101,1219 2101.9,1216.9 2102.7,1215.9 2103.6,1214.1 2104.5,1213.7 2105.4,1212.5 2106.3,1212.7 2107.2,1210.5 2108.1,1208.7 2109,1208.7 2109.8,1208.4 2110.7,1207.1 2111.6,1206.8 2112.5,1206.5"/></g>
<polyline fill="none" stroke="#ff0000" stroke-width="3.0" stroke-linejoin="round" points="338.5,1238 339.4,1238 340.3,1238 341.2,1238 342,1238 342.9,1238 343.8,1238 344.7,1238 345.6,1238 346.5,1238 347.4,1238 348.3,1238 349.1,1238 350,1238 350.9,1238 351.8,1238 352.7,1238 353.6,1238 354.5,1238 355.4,1238 356.2,1238 357.1,1238 358,1238 358.9,1238 359.8,1238 360.7,1238 361.6,1238 362.4,1238 363.3,1238 364.2,1238 365.1,1238 366,1238.1 366.9,1238.1 367.8,1238.1 368.7,1238.1 369.5,1238.1 370.4,1238.1 371.3,1238.1 372.2,1238.1 373.1,1238.1 374,1238.1 374.9,1238.1 375.8,1238.1 376.6,1238.1 377.5,1238.1 378.4,1238.1 379.3,1238.1 380.2,1238.1 381.1,1238.1 382,1238.1 382.9,1238.2 383.7,1238.2 384.6,1238.2 385.5,1238.2 386.4,1238.2 387.3,1238.2 388.2,1238.2 389.1,1238.2 389.9,1238.2 390.8,1238.2 391.7,1238.2 392.6,1238.2 393.5,1238.2 394.4,1238.2 395.3,1238.3 396.2,1238.3 397,1238.3 397.9,1238.3 398.8,1238.3 399.7,1238.3 400.6,1238.3 401.5,1238.3 402.4,1238.3 403.3,1238.3 404.1,1238.3 405,1238.4 405.9,1238.4 406.8,1238.4 407.7,1238.4 408.6,1238.4 409.5,1238.4 410.3,1238.4 411.2,1238.4 412.1,1238.4 413,1238.4 413.9,1238.4 414.8,1238.5 415.7,1238.5 416.6,1238.5 417.4,1238.5 418.3,1238.5 419.2,1238.5 420.1,1238.5 421,1238.5 421.9,1238.5 422.8,1238.5 423.7,1238.6 424.5,1238.6 425.4,1238.6 426.3,1238.6 427.2,1238.6 428.1,1238.6 429,1238.6 429.9,1238.6 430.7,1238.6 431.6,1238.7 432.5,1238.7 433.4,1238.7 434.3,1238.7 435.2,1238.7 436.1,1238.7 437,1238.7 437.8,1238.7 438.7,1238.7 439.6,1238.7 440.5,1238.8 441.4,1238.8 442.3,1238.8 443.2,1238.8 444.1,1238.8 444.9,1238.8 445.8,1238.8 446.7,1238.8 447.6,1238.8 448.5,1238.8 449.4,1238.8 450.3,1238.8 451.1,1238.8 452,1238.8 452.9,1238.9 453.8,1238.9 454.7,1238.9 455.6,1238.9 456.5,1238.9 457.4,1238.9 458.2,1238.8 459.1,1238.8 460,1238.8 460.9,1238.8 461.8,1238.8 462.7,1238.8 463.6,1238.7 464.5,1238.7 465.3,1238.6 466.2,1238.5 467.1,1238.4 468,1238.2 468.9,1238 469.8,1237.7 470.7,1237.3 471.6,1236.9 472.4,1236.3 473.3,1235.7 474.2,1235 475.1,1234.1 476,1233.2 476.9,1232.3 477.8,1231.3 478.6,1230.3 479.5,1229.4 480.4,1228.6 481.3,1228 482.2,1227.7 483.1,1227.7 484,1227.9 484.9,1228.5 485.7,1229.2 486.6,1230.1 487.5,1231.1 488.4,1232.2 489.3,1233.3 490.2,1234.3 491.1,1235.2 492,1236.1 492.8,1236.9 493.7,1237.5 494.6,1238.1 495.5,1238.6 496.4,1239 497.3,1239.3 498.2,1239.6 499,1239.8 499.9,1240 500.8,1240.2 501.7,1240.3 502.6,1240.4 503.5,1240.6 504.4,1240.7 505.3,1240.8 506.1,1240.9 507,1240.9 507.9,1241 508.8,1241.1 509.7,1241.2 510.6,1241.3 511.5,1241.3 512.4,1241.4 513.2,1241.5 514.1,1241.6 515,1241.6 515.9,1241.7 516.8,1241.8 517.7,1241.9 518.6,1241.9 519.4,1242 520.3,1242.1 521.2,1242.2 522.1,1242.2 523,1242.3 523.9,1242.4 524.8,1242.4 525.7,1242.5 526.5,1242.6 527.4,1242.6 528.3,1242.7 529.2,1242.7 530.1,1242.8 531,1242.9 531.9,1242.9 532.8,1243 533.6,1243 534.5,1243.1 535.4,1243.2 536.3,1243.2 537.2,1243.3 538.1,1243.3 539,1243.4 539.8,1243.4 540.7,1243.5 541.6,1243.5 542.5,1243.6 543.4,1243.6 544.3,1243.7 545.2,1243.7 546.1,1243.7 546.9,1243.8 547.8,1243.8 548.7,1243.8 549.6,1243.9 550.5,1243.9 551.4,1243.9 552.3,1244 553.2,1244 554,1244 554.9,1244.1 555.8,1244.1 556.7,1244.1 557.6,1244.1 558.5,1244.1 559.4,1244.2 560.3,1244.2 561.1,1244.2 562,1244.2 562.9,1244.2 563.8,1244.2 564.7,1244.2 565.6,1244.2 566.5,1244.2 567.3,1244.3 568.2,1244.3 569.1,1244.3 570,1244.3 570.9,1244.3 571.8,1244.3 572.7,1244.3 573.6,1244.3 574.4,1244.3 575.3,1244.4 576.2,1244.4 577.1,1244.4 578,1244.4 578.9,1244.4 579.8,1244.4 580.7,1244.4 581.5,1244.4 582.4,1244.4 583.3,1244.4 584.2,1244.4 585.1,1244.4 586,1244.5 586.9,1244.5 587.7,1244.5 588.6,1244.5 589.5,1244.5 590.4,1244.5 591.3,1244.5 592.2,1244.5 593.1,1244.5 594,1244.5 594.8,1244.5 595.7,1244.5 596.6,1244.5 597.5,1244.5 598.4,1244.6 599.3,1244.6 600.2,1244.6 601.1,1244.6 601.9,1244.6 602.8,1244.6 603.7,1244.6 604.6,1244.6 605.5,1244.6 606.4,1244.6 607.3,1244.6 608.1,1244.6 609,1244.6 609.9,1244.6 610.8,1244.6 611.7,1244.6 612.6,1244.6 613.5,1244.6 614.4,1244.6 615.2,1244.6 616.1,1244.6 617,1244.6 617.9,1244.6 618.8,1244.6 619.7,1244.6 620.6,1244.6 621.5,1244.6 622.3,1244.6 623.2,1244.6 624.1,1244.6 625,1244.6 625.9,1244.6 626.8,1244.6 627.7,1244.6 628.5,1244.6 629.4,1244.6 630.3,1244.6 631.2,1244.6 632.1,1244.6 633,1244.6 633.9,1244.6 634.8,1244.6 635.6,1244.6 636.5,1244.6 637.4,1244.6 638.3,1244.6 639.2,1244.6 640.1,1244.6 641,1244.5 641.9,1244.5 642.7,1244.5 643.6,1244.5 644.5,1244.5 645.4,1244.5 646.3,1244.5 647.2,1244.5 648.1,1244.5 649,1244.4 649.8,1244.4 650.7,1244.4 651.6,1244.4 652.5,1244.4 653.4,1244.3 654.3,1244.3 655.2,1244.2 656,1244.2 656.9,1244.1 657.8,1244.1 658.7,1244 659.6,1243.9 660.5,1243.8 661.4,1243.7 662.3,1243.6 663.1,1243.5 664,1243.3 664.9,1243.2 665.8,1243 666.7,1242.8 667.6,1242.6 668.5,1242.3 669.4,1242.1 670.2,1241.8 671.1,1241.5 672,1241.3 672.9,1241 673.8,1240.6 674.7,1240.3 675.6,1240 676.4,1239.7 677.3,1239.4 678.2,1239.1 679.1,1238.8 680,1238.5 680.9,1238.2 681.8,1238 682.7,1237.8 683.5,1237.6 684.4,1237.4 685.3,1237.3 686.2,1237.2 687.1,1237.2 688,1237.2 688.9,1237.2 689.8,1237.3 690.6,1237.3 691.5,1237.5 692.4,1237.6 693.3,1237.8 694.2,1238 695.1,1238.2 696,1238.4 696.8,1238.6 697.7,1238.9 698.6,1239.1 699.5,1239.4 700.4,1239.6 701.3,1239.8 702.2,1240.1 703.1,1240.3 703.9,1240.5 704.8,1240.6 705.7,1240.8 706.6,1240.9 707.5,1241.1 708.4,1241.2 709.3,1241.3 710.2,1241.4 711,1241.4 711.9,1241.5 712.8,1241.5 713.7,1241.5 714.6,1241.5 715.5,1241.5 716.4,1241.5 717.2,1241.5 718.1,1241.4 719,1241.4 719.9,1241.3 720.8,1241.1 721.7,1241 722.6,1240.8 723.5,1240.6 724.3,1240.3 725.2,1239.9 726.1,1239.4 727,1238.9 727.9,1238.2 728.8,1237.4 729.7,1236.5 730.6,1235.4 731.4,1234.2 732.3,1233 733.2,1231.6 734.1,1230.2 735,1228.8 735.9,1227.5 736.8,1226.3 737.7,1225.2 738.5,1224.3 739.4,1223.6 740.3,1223.2 741.2,1223.1 742.1,1223.2 743,1223.6 743.9,1224.3 744.7,1225.2 745.6,1226.2 746.5,1227.3 747.4,1228.5 748.3,1229.7 749.2,1230.9 750.1,1232.1 751,1233.1 751.8,1234 752.7,1234.8 753.6,1235.5 754.5,1236 755.4,1236.4 756.3,1236.8 757.2,1237 758.1,1237.1 758.9,1237.2 759.8,1237.2 760.7,1237.2 761.6,1237.2 762.5,1237.1 763.4,1237 764.3,1236.9 765.1,1236.8 766,1236.7 766.9,1236.6 767.8,1236.4 768.7,1236.3 769.6,1236.1 770.5,1236 771.4,1235.8 772.2,1235.6 773.1,1235.5 774,1235.3 774.9,1235.1 775.8,1234.9 776.7,1234.7 777.6,1234.5 778.5,1234.3 779.3,1234 780.2,1233.8 781.1,1233.5 782,1233.2 782.9,1232.9 783.8,1232.6 784.7,1232.3 785.5,1232 786.4,1231.6 787.3,1231.2 788.2,1230.8 789.1,1230.4 790,1229.9 790.9,1229.5 791.8,1228.9 792.6,1228.4 793.5,1227.9 794.4,1227.3 795.3,1226.7 796.2,1226.1 797.1,1225.4 798,1224.7 798.9,1224 799.7,1223.2 800.6,1222.5 801.5,1221.6 802.4,1220.8 803.3,1219.9 804.2,1218.9 805.1,1217.9 805.9,1216.8 806.8,1215.7 807.7,1214.5 808.6,1213.2 809.5,1211.8 810.4,1210.4 811.3,1208.9 812.2,1207.3 813,1205.5 813.9,1203.6 814.8,1201.5 815.7,1199.2 816.6,1196.7 817.5,1193.9 818.4,1190.7 819.3,1187.3 820.1,1183.5 821,1179.3 821.9,1174.6 822.8,1169.3 823.7,1163.3 824.6,1156.5 825.5,1148.7 826.4,1139.6 827.2,1128.9 828.1,1116.5 829,1102 829.9,1085.2 830.8,1065.7 831.7,1043.1 832.6,1017.1 833.4,987.4 834.3,953.8 835.2,915.9 836.1,873.7 837,827.3 837.9,776.9 838.8,722.9 839.7,666.4 840.5,608.6 841.4,551.4 842.3,497.4 843.2,449.6 844.1,411.3 845,385.5 845.9,374.4 846.8,378.7 847.6,397.7 848.5,429.1 849.4,470.1 850.3,517.3 851.2,568.1 852.1,619.9 853,671.1 853.8,720.4 854.7,766.9 855.6,810.4 856.5,850.4 857.4,887.1 858.3,920.5 859.2,950.8 860.1,978.1 860.9,1002.7 861.8,1024.9 862.7,1044.8 863.6,1062.9 864.5,1079.1 865.4,1093.8 866.3,1107.1 867.2,1119.1 868,1130 868.9,1139.9 869.8,1148.8 870.7,1156.8 871.6,1164.1 872.5,1170.6 873.4,1176.4 874.2,1181.6 875.1,1186.3 876,1190.5 876.9,1194.2 877.8,1197.5 878.7,1200.4 879.6,1203 880.5,1205.3 881.3,1207.3 882.2,1209.2 883.1,1210.8 884,1212.3 884.9,1213.7 885.8,1214.9 886.7,1216 887.6,1217 888.4,1217.9 889.3,1218.7 890.2,1219.4 891.1,1220 892,1220.5 892.9,1221 893.8,1221.6 894.6,1222.1 895.5,1222.5 896.4,1223 897.3,1223.3 898.2,1223.7 899.1,1224 900,1224.3 900.9,1224.6 901.7,1224.8 902.6,1225 903.5,1225.2 904.4,1225.4 905.3,1225.5 906.2,1225.6 907.1,1225.7 908,1225.7 908.8,1225.8 909.7,1225.8 910.6,1225.8 911.5,1225.7 912.4,1225.7 913.3,1225.6 914.2,1225.5 915.1,1225.4 915.9,1225.3 916.8,1225.2 917.7,1225.1 918.6,1224.9 919.5,1224.8 920.4,1224.6 921.3,1224.4 922.1,1224.3 923,1224.1 923.9,1224 924.8,1223.9 925.7,1223.7 926.6,1223.6 927.5,1223.6 928.4,1223.5 929.2,1223.5 930.1,1223.5 931,1223.5 931.9,1223.6 932.8,1223.6 933.7,1223.7 934.6,1223.9 935.5,1224 936.3,1224.2 937.2,1224.4 938.1,1224.7 939,1224.9 939.9,1225.2 940.8,1225.5 941.7,1225.7 942.5,1226 943.4,1226.3 944.3,1226.6 945.2,1226.9 946.1,1227.2 947,1227.5 947.9,1227.8 948.8,1228.1 949.6,1228.3 950.5,1228.6 951.4,1228.9 952.3,1229.1 953.2,1229.3 954.1,1229.6 955,1229.8 955.9,1230 956.7,1230.2 957.6,1230.3 958.5,1230.5 959.4,1230.7 960.3,1230.8 961.2,1231 962.1,1231.1 962.9,1231.2 963.8,1231.3 964.7,1231.4 965.6,1231.5 966.5,1231.6 967.4,1231.7 968.3,1231.7 969.2,1231.8 970,1231.8 970.9,1231.9 971.8,1231.9 972.7,1231.9 973.6,1231.9 974.5,1232 975.4,1232 976.3,1232 977.1,1232 978,1232 978.9,1232 979.8,1232 980.7,1232 981.6,1232 982.5,1232 983.3,1232 984.2,1232 985.1,1232 986,1232 986.9,1232 987.8,1232 988.7,1231.9 989.6,1231.9 990.4,1231.9 991.3,1231.9 992.2,1231.9 993.1,1231.9 994,1231.8 994.9,1231.8 995.8,1231.8 996.7,1231.8 997.5,1231.7 998.4,1231.7 999.3,1231.7 1000.2,1231.6 1001.1,1231.6 1002,1231.6 1002.9,1231.5 1003.8,1231.5 1004.6,1231.4 1005.5,1231.4 1006.4,1231.3 1007.3,1231.2 1008.2,1231.2 1009.1,1231.1 1010,1231 1010.8,1230.9 1011.7,1230.9 1012.6,1230.8 1013.5,1230.7 1014.4,1230.6 1015.3,1230.5 1016.2,1230.4 1017.1,1230.2 1017.9,1230.1 1018.8,1230 1019.7,1229.8 1020.6,1229.7 1021.5,1229.5 1022.4,1229.4 1023.3,1229.2 1024.2,1229 1025,1228.8 1025.9,1228.6 1026.8,1228.4 1027.7,1228.2 1028.6,1228 1029.5,1227.8 1030.4,1227.6 1031.2,1227.3 1032.1,1227.1 1033,1226.8 1033.9,1226.5 1034.8,1226.2 1035.7,1225.9 1036.6,1225.6 1037.5,1225.3 1038.3,1225 1039.2,1224.6 1040.1,1224.3 1041,1223.9 1041.9,1223.5 1042.8,1223.1 1043.7,1222.7 1044.6,1222.2 1045.4,1221.8 1046.3,1221.3 1047.2,1220.8 1048.1,1220.2 1049,1219.7 1049.9,1219.1 1050.8,1218.4 1051.6,1217.8 1052.5,1217 1053.4,1216.3 1054.3,1215.5 1055.2,1214.7 1056.1,1213.8 1057,1212.8 1057.9,1211.8 1058.7,1210.7 1059.6,1209.6 1060.5,1208.4 1061.4,1207 1062.3,1204.7 1063.2,1203.3 1064.1,1201.8 1065,1200.3 1065.8,1198.7 1066.7,1196.9 1067.6,1195 1068.5,1193 1069.4,1190.7 1070.3,1188.3 1071.2,1185.6 1072,1182.7 1072.9,1179.5 1073.8,1175.9 1074.7,1172 1075.6,1167.7 1076.5,1163 1077.4,1158 1078.3,1152.5 1079.1,1146.5 1080,1140.1 1080.9,1133 1081.8,1125.3 1082.7,1116.7 1083.6,1107.4 1084.5,1097.1 1085.4,1085.7 1086.2,1073.3 1087.1,1059.7 1088,1044.8 1088.9,1028.5 1089.8,1010.7 1090.7,991.5 1091.6,970.8 1092.5,948.7 1093.3,925.3 1094.2,901 1095.1,876.1 1096,851.1 1096.9,826.9 1097.8,804.3 1098.7,784.4 1099.5,768.2 1100.4,756.7 1101.3,750.6 1102.2,750.3 1103.1,756 1104,767.2 1104.9,783.1 1105.8,802.8 1106.6,825.3 1107.5,849.5 1108.4,874.4 1109.3,899.5 1110.2,923.9 1111.1,947.5 1112,969.7 1112.9,990.6 1113.7,1010 1114.6,1028 1115.5,1044.5 1116.4,1059.6 1117.3,1073.4 1118.2,1086 1119.1,1097.5 1119.9,1107.9 1120.8,1117.4 1121.7,1126.1 1122.6,1134 1123.5,1141.2 1124.4,1147.7 1125.3,1153.7 1126.2,1159.1 1127,1164.1 1127.9,1168.6 1128.8,1172.8 1129.7,1176.6 1130.6,1180.1 1131.5,1183.3 1132.4,1186.3 1133.3,1189.1 1134.1,1191.6 1135,1194 1135.9,1196.2 1136.8,1198.3 1137.7,1200.2 1138.6,1202 1139.5,1203.7 1140.3,1205.2 1141.2,1206.7 1142.1,1208.1 1143,1209.5 1143.9,1210.7 1144.8,1211.9 1145.7,1213 1146.6,1214 1147.4,1215 1148.3,1215.9 1149.2,1216.8 1150.1,1217.7 1151,1218.4 1151.9,1219.2 1152.8,1219.9 1153.7,1220.6 1154.5,1221.2 1155.4,1221.8 1156.3,1222.3 1157.2,1222.8 1158.1,1223.3 1159,1223.7 1159.9,1224.1 1160.7,1224.5 1161.6,1224.9 1162.5,1225.2 1163.4,1225.5 1164.3,1225.7 1165.2,1225.9 1166.1,1226.1 1167,1226.3 1167.8,1226.4 1168.7,1226.5 1169.6,1226.5 1170.5,1226.6 1171.4,1226.6 1172.3,1226.5 1173.2,1226.5 1174.1,1226.4 1174.9,1226.3 1175.8,1226.2 1176.7,1226 1177.6,1225.8 1178.5,1225.6 1179.4,1225.3 1180.3,1225 1181.2,1224.7 1182,1224.3 1182.9,1223.9 1183.8,1223.5 1184.7,1223 1185.6,1222.5 1186.5,1221.9 1187.4,1221.3 1188.2,1220.7 1189.1,1219.9 1190,1219.1 1190.9,1218.3 1191.8,1217.4 1192.7,1216.3 1193.6,1215.2 1194.5,1214 1195.3,1212.7 1196.2,1211.3 1197.1,1209.7 1198,1207.9 1198.9,1206 1199.8,1203.8 1200.7,1201.4 1201.6,1198.8 1202.4,1195.8 1203.3,1192.5 1204.2,1188.8 1205.1,1184.7 1206,1180.1 1206.9,1175 1207.8,1169.3 1208.6,1162.9 1209.5,1155.9 1210.4,1148.1 1211.3,1139.6 1212.2,1130.3 1213.1,1120.1 1214,1109 1214.9,1097 1215.7,1084.2 1216.6,1070.6 1217.5,1056.1 1218.4,1041 1219.3,1025.3 1220.2,1009.3 1221.1,993.1 1222,977.3 1222.8,962.1 1223.7,948.1 1224.6,935.8 1225.5,925.8 1226.4,918.5 1227.3,914.3 1228.2,913.5 1229,916.1 1229.9,922 1230.8,930.9 1231.7,942.2 1232.6,955.5 1233.5,970.3 1234.4,985.9 1235.3,1002 1236.1,1018.2 1237,1034.1 1237.9,1049.6 1238.8,1064.5 1239.7,1078.6 1240.6,1091.9 1241.5,1104.4 1242.4,1115.9 1243.2,1126.6 1244.1,1136.4 1245,1145.4 1245.9,1153.6 1246.8,1161.1 1247.7,1167.8 1248.6,1173.9 1249.4,1179.4 1250.3,1184.3 1251.2,1188.7 1252.1,1192.7 1253,1196.2 1253.9,1199.4 1254.8,1202.3 1255.7,1204.9 1256.5,1207.3 1257.4,1209.4 1258.3,1211.3 1259.2,1213.1 1260.1,1214.7 1261,1216.1 1261.9,1217.5 1262.8,1218.7 1263.6,1219.9 1264.5,1220.9 1265.4,1221.9 1266.3,1222.8 1267.2,1223.7 1268.1,1224.5 1269,1225.3 1269.9,1226 1270.7,1226.6 1271.6,1227.3 1272.5,1227.9 1273.4,1228.4 1274.3,1228.9 1275.2,1229.4 1276.1,1229.9 1276.9,1230.3 1277.8,1230.8 1278.7,1231.2 1279.6,1231.5 1280.5,1231.9 1281.4,1232.2 1282.3,1232.6 1283.2,1232.9 1284,1233.2 1284.9,1233.4 1285.8,1233.7 1286.7,1234 1287.6,1234.2 1288.5,1234.4 1289.4,1234.6 1290.3,1234.9 1291.1,1235.1 1292,1235.2 1292.9,1235.4 1293.8,1235.6 1294.7,1235.8 1295.6,1235.9 1296.5,1236.1 1297.3,1236.2 1298.2,1236.3 1299.1,1236.5 1300,1236.6 1300.9,1236.7 1301.8,1236.8 1302.7,1237 1303.6,1237.1 1304.4,1237.2 1305.3,1237.3 1306.2,1237.3 1307.1,1237.4 1308,1237.5 1308.9,1237.6 1309.8,1237.7 1310.7,1237.8 1311.5,1237.8 1312.4,1237.9 1313.3,1238 1314.2,1238 1315.1,1238.1 1316,1238.1 1316.9,1238.2 1317.7,1238.2 1318.6,1238.3 1319.5,1238.3 1320.4,1238.4 1321.3,1238.4 1322.2,1238.5 1323.1,1238.5 1324,1238.6 1324.8,1238.6 1325.7,1238.6 1326.6,1238.7 1327.5,1238.7 1328.4,1238.7 1329.3,1238.7 1330.2,1238.8 1331.1,1238.8 1331.9,1238.8 1332.8,1238.9 1333.7,1238.9 1334.6,1238.9 1335.5,1238.9 1336.4,1238.9 1337.3,1239 1338.1,1239 1339,1239 1339.9,1239 1340.8,1239 1341.7,1239 1342.6,1239.1 1343.5,1239.1 1344.4,1239.2 1345.2,1239.2 1346.1,1239.3 1347,1239.3 1347.9,1239.4 1348.8,1239.5 1349.7,1239.6 1350.6,1239.7 1351.5,1239.7 1352.3,1239.8 1353.2,1239.9 1354.1,1240 1355,1240.1 1355.9,1240.2 1356.8,1240.3 1357.7,1240.4 1358.6,1240.5 1359.4,1240.6 1360.3,1240.7 1361.2,1240.7 1362.1,1240.8 1363,1240.9 1363.9,1241 1364.8,1241 1365.6,1241.1 1366.5,1241.2 1367.4,1241.2 1368.3,1241.3 1369.2,1241.3 1370.1,1241.3 1371,1241.4 1371.9,1241.4 1372.7,1241.4 1373.6,1241.4 1374.5,1241.4 1375.4,1241.3 1376.3,1241.3 1377.2,1241.2 1378.1,1241.2 1379,1241.1 1379.8,1241 1380.7,1240.9 1381.6,1240.7 1382.5,1240.6 1383.4,1240.4 1384.3,1240.3 1385.2,1240.1 1386,1239.9 1386.9,1239.6 1387.8,1239.4 1388.7,1239.1 1389.6,1238.9 1390.5,1238.6 1391.4,1238.3 1392.3,1238 1393.1,1237.6 1394,1237.3 1394.9,1236.9 1395.8,1236.6 1396.7,1236.2 1397.6,1235.8 1398.5,1235.4 1399.4,1234.9 1400.2,1234.5 1401.1,1234 1402,1233.5 1402.9,1233 1403.8,1232.5 1404.7,1231.9 1405.6,1231.3 1406.4,1230.7 1407.3,1230.1 1408.2,1229.4 1409.1,1228.7 1410,1228 1410.9,1227.2 1411.8,1226.4 1412.7,1225.5 1413.5,1224.6 1414.4,1223.6 1415.3,1222.6 1416.2,1221.5 1417.1,1220.3 1418,1219.1 1418.9,1217.8 1419.8,1216.4 1420.6,1214.9 1421.5,1213.2 1422.4,1211.4 1423.3,1209.5 1424.2,1207.3 1425.1,1204.9 1426,1202.3 1426.8,1199.4 1427.7,1196.2 1428.6,1192.8 1429.5,1189.1 1430.4,1185.1 1431.3,1181 1432.2,1176.6 1433.1,1172.2 1433.9,1167.7 1434.8,1163.3 1435.7,1159 1436.6,1155.2 1437.5,1151.9 1438.4,1149.3 1439.3,1147.5 1440.2,1146.7 1441,1146.7 1441.9,1147.6 1442.8,1149.2 1443.7,1151.5 1444.6,1154.3 1445.5,1157.3 1446.4,1160.6 1447.3,1163.8 1448.1,1167 1449,1170 1449.9,1172.7 1450.8,1175.2 1451.7,1177.4 1452.6,1179.2 1453.5,1180.7 1454.3,1181.9 1455.2,1182.8 1456.1,1183.3 1457,1183.5 1457.9,1183.3 1458.8,1182.9 1459.7,1182.1 1460.6,1181.1 1461.4,1179.7 1462.3,1178 1463.2,1176 1464.1,1173.7 1465,1171 1465.9,1168.1 1466.8,1164.9 1467.7,1161.5 1468.5,1157.8 1469.4,1153.9 1470.3,1149.9 1471.2,1145.9 1472.1,1141.9 1473,1138.1 1473.9,1134.5 1474.7,1131.3 1475.6,1128.7 1476.5,1126.7 1477.4,1125.4 1478.3,1125 1479.2,1125.4 1480.1,1126.8 1481,1128.9 1481.8,1131.8 1482.7,1135.3 1483.6,1139.3 1484.5,1143.7 1485.4,1148.4 1486.3,1153.1 1487.2,1158 1488.1,1162.7 1488.9,1167.4 1489.8,1171.8 1490.7,1176.1 1491.6,1180.2 1492.5,1184.1 1493.4,1187.7 1494.3,1191.1 1495.1,1194.2 1496,1197.2 1496.9,1199.9 1497.8,1202.5 1498.7,1204.8 1499.6,1207 1500.5,1209 1501.4,1210.9 1502.2,1212.6 1503.1,1214.2 1504,1215.7 1504.9,1217.1 1505.8,1218.4 1506.7,1219.6 1507.6,1220.8 1508.5,1221.9 1509.3,1223 1510.2,1224 1511.1,1225 1512,1225.9 1512.9,1226.8 1513.8,1227.7 1514.7,1228.5 1515.5,1229.3 1516.4,1230 1517.3,1230.7 1518.2,1231.4 1519.1,1232.1 1520,1232.7 1520.9,1233.2 1521.8,1233.8 1522.6,1234.3 1523.5,1234.8 1524.4,1235.2 1525.3,1235.6 1526.2,1236 1527.1,1236.3 1528,1236.6 1528.9,1236.9 1529.7,1237.2 1530.6,1237.5 1531.5,1237.7 1532.4,1238 1533.3,1238.2 1534.2,1238.4 1535.1,1238.6 1536,1238.8 1536.8,1239 1537.7,1239.1 1538.6,1239.3 1539.5,1239.4 1540.4,1239.6 1541.3,1239.7 1542.2,1239.8 1543,1240 1543.9,1240.1 1544.8,1240.2 1545.7,1240.3 1546.6,1240.4 1547.5,1240.5 1548.4,1240.6 1549.3,1240.6 1550.1,1240.7 1551,1240.8 1551.9,1240.9 1552.8,1241 1553.7,1241 1554.6,1241.1 1555.5,1241.2 1556.4,1241.2 1557.2,1241.3 1558.1,1241.4 1559,1241.4 1559.9,1241.5 1560.8,1241.6 1561.7,1241.6 1562.6,1241.7 1563.4,1241.7 1564.3,1241.8 1565.2,1241.9 1566.1,1241.9 1567,1242 1567.9,1242 1568.8,1242 1569.7,1242.1 1570.5,1242.1 1571.4,1242.2 1572.3,1242.2 1573.2,1242.2 1574.1,1242.3 1575,1242.3 1575.9,1242.3 1576.8,1242.4 1577.6,1242.4 1578.5,1242.4 1579.4,1242.4 1580.3,1242.5 1581.2,1242.5 1582.1,1242.5 1583,1242.5 1583.8,1242.5 1584.7,1242.5 1585.6,1242.5 1586.5,1242.5 1587.4,1242.5 1588.3,1242.5 1589.2,1242.5 1590.1,1242.5 1590.9,1242.4 1591.8,1242.4 1592.7,1242.4 1593.6,1242.4 1594.5,1242.3 1595.4,1242.3 1596.3,1242.2 1597.2,1242.2 1598,1242.1 1598.9,1242.1 1599.8,1242 1600.7,1241.9 1601.6,1241.9 1602.5,1241.8 1603.4,1241.7 1604.2,1241.6 1605.1,1241.5 1606,1241.4 1606.9,1241.3 1607.8,1241.1 1608.7,1241 1609.6,1240.8 1610.5,1240.7 1611.3,1240.5 1612.2,1240.3 1613.1,1240.1 1614,1239.9 1614.9,1239.7 1615.8,1239.5 1616.7,1239.3 1617.6,1239 1618.4,1238.7 1619.3,1238.4 1620.2,1238.1 1621.1,1237.8 1622,1237.4 1622.9,1237.1 1623.8,1236.6 1624.7,1236.2 1625.5,1235.7 1626.4,1235.2 1627.3,1234.7 1628.2,1234.1 1629.1,1233.4 1630,1232.7 1630.9,1232 1631.7,1231.1 1632.6,1230.2 1633.5,1229.2 1634.4,1228.2 1635.3,1227 1636.2,1225.6 1637.1,1224.2 1638,1222.6 1638.8,1220.8 1639.7,1218.9 1640.6,1216.8 1641.5,1214.5 1642.4,1211.9 1643.3,1209 1644.2,1205.8 1645.1,1202.3 1645.9,1198.4 1646.8,1194.2 1647.7,1189.7 1648.6,1184.9 1649.5,1180 1650.4,1175.2 1651.3,1170.7 1652.1,1166.7 1653,1163.4 1653.9,1161.2 1654.8,1160.3 1655.7,1160.5 1656.6,1162 1657.5,1164.4 1658.4,1167.7 1659.2,1171.5 1660.1,1175.6 1661,1179.7 1661.9,1183.7 1662.8,1187.4 1663.7,1190.9 1664.6,1193.9 1665.5,1196.6 1666.3,1198.9 1667.2,1200.8 1668.1,1202.4 1669,1203.6 1669.9,1204.5 1670.8,1205.1 1671.7,1205.4 1672.5,1205.6 1673.4,1205.6 1674.3,1205.4 1675.2,1205.2 1676.1,1205 1677,1204.9 1677.9,1204.9 1678.8,1205 1679.6,1205.4 1680.5,1206 1681.4,1206.9 1682.3,1208.1 1683.2,1209.4 1684.1,1210.9 1685,1212.6 1685.9,1214.3 1686.7,1216.1 1687.6,1217.8 1688.5,1219.5 1689.4,1221.1 1690.3,1222.6 1691.2,1223.9 1692.1,1225.2 1692.9,1226.3 1693.8,1227.3 1694.7,1228.2 1695.6,1229 1696.5,1229.7 1697.4,1230.3 1698.3,1230.9 1699.2,1231.3 1700,1231.8 1700.9,1232.1 1701.8,1232.4 1702.7,1232.5 1703.6,1232.6 1704.5,1232.6 1705.4,1232.5 1706.3,1232.4 1707.1,1232.3 1708,1232.3 1708.9,1232.3 1709.8,1232.3 1710.7,1232.5 1711.6,1232.9 1712.5,1233.4 1713.4,1234.1 1714.2,1235 1715.1,1235.9 1716,1236.9 1716.9,1237.9 1717.8,1238.9 1718.7,1239.8 1719.6,1240.7 1720.4,1241.4 1721.3,1242 1722.2,1242.4 1723.1,1242.5 1724,1242.6 1724.9,1242.7 1725.8,1242.8 1726.7,1242.9 1727.5,1243 1728.4,1243 1729.3,1243.1 1730.2,1243.1 1731.1,1243.1 1732,1243.2 1732.9,1243.2 1733.8,1243.2 1734.6,1243.2 1735.5,1243.2 1736.4,1243.3 1737.3,1243.3 1738.2,1243.3 1739.1,1243.2 1740,1243.2 1740.8,1243.2 1741.7,1243.2 1742.6,1243.2 1743.5,1243.2 1744.4,1243.2 1745.3,1243.1 1746.2,1243.1 1747.1,1243.1 1747.9,1243.1 1748.8,1243.1 1749.7,1243.1 1750.6,1243 1751.5,1243 1752.4,1243 1753.3,1243 1754.2,1243 1755,1243 1755.9,1243 1756.8,1243 1757.7,1243 1758.6,1243 1759.5,1243 1760.4,1243 1761.2,1243 1762.1,1243 1763,1243 1763.9,1243.1 1764.8,1243.1 1765.7,1243.1 1766.6,1243.1 1767.5,1243.1 1768.3,1243.1 1769.2,1243.1 1770.1,1243.1 1771,1243.1 1771.9,1243.2 1772.8,1243.2 1773.7,1243.2 1774.6,1243.2 1775.4,1243.2 1776.3,1243.2 1777.2,1243.2 1778.1,1243.2 1779,1243.2 1779.9,1243.2 1780.8,1243.2 1781.6,1243.3 1782.5,1243.3 1783.4,1243.3 1784.3,1243.3 1785.2,1243.3 1786.1,1243.3 1787,1243.3 1787.9,1243.3 1788.7,1243.3 1789.6,1243.3 1790.5,1243.3 1791.4,1243.3 1792.3,1243.3 1793.2,1243.3 1794.1,1243.3 1795,1243.3 1795.8,1243.3 1796.7,1243.4 1797.6,1243.4 1798.5,1243.4 1799.4,1243.4 1800.3,1243.4 1801.2,1243.4 1802.1,1243.4 1802.9,1243.4 1803.8,1243.4 1804.7,1243.4 1805.6,1243.4 1806.5,1243.4 1807.4,1243.4 1808.3,1243.4 1809.1,1243.4 1810,1243.4 1810.9,1243.4 1811.8,1243.4 1812.7,1243.4 1813.6,1243.4 1814.5,1243.4 1815.4,1243.4 1816.2,1243.4 1817.1,1243.4 1818,1243.3 1818.9,1243.3 1819.8,1243.3 1820.7,1243.3 1821.6,1243.3 1822.5,1243.3 1823.3,1243.3 1824.2,1243.3 1825.1,1243.3 1826,1243.3 1826.9,1243.3 1827.8,1243.3 1828.7,1243.2 1829.5,1243.2 1830.4,1243.2 1831.3,1243.2 1832.2,1243.2 1833.1,1243.2 1834,1243.1 1834.9,1243.1 1835.8,1243.1 1836.6,1243.1 1837.5,1243.1 1838.4,1243 1839.3,1243 1840.2,1243 1841.1,1243 1842,1242.9 1842.9,1242.9 1843.7,1242.9 1844.6,1242.9 1845.5,1242.8 1846.4,1242.8 1847.3,1242.8 1848.2,1242.7 1849.1,1242.7 1849.9,1242.7 1850.8,1242.6 1851.7,1242.6 1852.6,1242.6 1853.5,1242.5 1854.4,1242.5 1855.3,1242.4 1856.2,1242.4 1857,1242.3 1857.9,1242.3 1858.8,1242.2 1859.7,1242.2 1860.6,1242.1 1861.5,1242.1 1862.4,1242 1863.3,1242 1864.1,1241.9 1865,1241.9 1865.9,1241.8 1866.8,1241.7 1867.7,1241.7 1868.6,1241.6 1869.5,1241.5 1870.3,1241.5 1871.2,1241.4 1872.1,1241.3 1873,1241.2 1873.9,1241.1 1874.8,1241 1875.7,1240.9 1876.6,1240.7 1877.4,1240.6 1878.3,1240.5 1879.2,1240.3 1880.1,1240.2 1881,1240 1881.9,1239.9 1882.8,1239.7 1883.7,1239.5 1884.5,1239.4 1885.4,1239.2 1886.3,1239 1887.2,1238.9 1888.1,1238.7 1889,1238.5 1889.9,1238.3 1890.8,1238.1 1891.6,1237.9 1892.5,1237.7 1893.4,1237.5 1894.3,1237.3 1895.2,1237.1 1896.1,1236.9 1897,1236.6 1897.8,1236.3 1898.7,1236.1 1899.6,1235.8 1900.5,1235.5 1901.4,1235.2 1902.3,1234.8 1903.2,1234.5 1904.1,1234.1 1904.9,1233.7 1905.8,1233.3 1906.7,1232.8 1907.6,1232.3 1908.5,1231.8 1909.4,1231.3 1910.3,1230.7 1911.2,1230.1 1912,1229.6 1912.9,1229 1913.8,1228.5 1914.7,1227.9 1915.6,1227.3 1916.5,1226.7 1917.4,1225.9 1918.2,1225.1 1919.1,1224.2 1920,1223.1 1920.9,1221.9 1921.8,1220.6 1922.7,1219.2 1923.6,1217.8 1924.5,1216.3 1925.3,1214.8 1926.2,1213.4 1927.1,1212.1 1928,1211 1928.9,1210 1929.8,1209.2 1930.7,1208.5 1931.6,1208 1932.4,1207.7 1933.3,1207.5 1934.2,1207.4 1935.1,1207.5 1936,1207.6 1936.9,1207.7 1937.8,1207.9 1938.6,1208 1939.5,1208.2 1940.4,1208.2 1941.3,1208.2 1942.2,1208.1 1943.1,1207.8 1944,1207.5 1944.9,1207.1 1945.7,1206.6 1946.6,1205.9 1947.5,1205.2 1948.4,1204.3 1949.3,1203.4 1950.2,1202.4 1951.1,1201.3 1952,1200.1 1952.8,1198.9 1953.7,1197.6 1954.6,1196.4 1955.5,1195.1 1956.4,1193.9 1957.3,1192.8 1958.2,1191.9 1959,1191.1 1959.9,1190.5 1960.8,1190.1 1961.7,1190 1962.6,1190.2 1963.5,1190.6 1964.4,1191.3 1965.3,1192.2 1966.1,1193.4 1967,1194.7 1967.9,1196.2 1968.8,1197.8 1969.7,1199.5 1970.6,1201.3 1971.5,1203.1 1972.4,1204.8 1973.2,1206.6 1974.1,1208.2 1975,1209.8 1975.9,1211.3 1976.8,1212.8 1977.7,1214.1 1978.6,1215.3 1979.5,1216.5 1980.3,1217.6 1981.2,1218.6 1982.1,1219.6 1983,1220.5 1983.9,1221.3 1984.8,1222.1 1985.7,1222.9 1986.5,1223.7 1987.4,1224.4 1988.3,1225.2 1989.2,1225.9 1990.1,1226.7 1991,1227.4 1991.9,1228.2 1992.8,1228.9 1993.6,1229.6 1994.5,1230.3 1995.4,1231 1996.3,1231.6 1997.2,1232.2 1998.1,1232.8 1999,1233.4 1999.9,1233.8 2000.7,1234.3 2001.6,1234.7 2002.5,1235.1 2003.4,1235.4 2004.3,1235.8 2005.2,1236.1 2006.1,1236.5 2006.9,1236.8 2007.8,1237.1 2008.7,1237.3 2009.6,1237.6 2010.5,1237.9 2011.4,1238.1 2012.3,1238.3 2013.2,1238.5 2014,1238.7 2014.9,1238.9 2015.8,1239 2016.7,1239.2 2017.6,1239.3 2018.5,1239.4 2019.4,1239.5 2020.3,1239.5 2021.1,1239.5 2022,1239.6 2022.9,1239.6 2023.8,1239.5 2024.7,1239.5 2025.6,1239.5 2026.5,1239.5 2027.3,1239.5 2028.2,1239.5 2029.1,1239.5 2030,1239.5 2030.9,1239.5 2031.8,1239.5 2032.7,1239.6 2033.6,1239.6 2034.4,1239.6 2035.3,1239.6 2036.2,1239.6 2037.1,1239.6 2038,1239.6 2038.9,1239.6 2039.8,1239.6 2040.7,1239.6 2041.5,1239.6 2042.4,1239.5 2043.3,1239.5 2044.2,1239.5 2045.1,1239.5 2046,1239.4 2046.9,1239.4 2047.7,1239.4 2048.6,1239.3 2049.5,1239.3 2050.4,1239.2 2051.3,1239.2 2052.2,1239.2 2053.1,1239.1 2054,1239 2054.8,1239 2055.7,1238.9 2056.6,1238.8 2057.5,1238.8 2058.4,1238.7 2059.3,1238.6 2060.2,1238.5 2061.1,1238.4 2061.9,1238.3 2062.8,1238.2 2063.7,1238.1 2064.6,1238.1 2065.5,1238 2066.4,1237.9 2067.3,1237.8 2068.2,1237.7 2069,1237.6 2069.9,1237.4 2070.8,1237.3 2071.7,1237.1 2072.6,1236.9 2073.5,1236.7 2074.4,1236.5 2075.2,1236.3 2076.1,1236 2077,1235.7 2077.9,1235.3 2078.8,1235 2079.7,1234.5 2080.6,1234.1 2081.5,1233.6 2082.3,1233.1 2083.2,1232.5 2084.1,1231.9 2085,1231.2 2085.9,1230.6 2086.8,1229.8 2087.7,1229.1 2088.6,1228.3 2089.4,1227.6 2090.3,1226.7 2091.2,1225.9 2092.1,1225.1 2093,1224.2 2093.9,1223.4 2094.8,1222.5 2095.6,1221.6 2096.5,1220.8 2097.4,1219.9 2098.3,1219 2099.2,1218.2 2100.1,1217.3 2101,1216.5 2101.9,1215.6 2102.7,1214.8 2103.6,1213.9 2104.5,1213.1 2105.4,1212.3 2106.3,1211.6 2107.2,1210.8 2108.1,1210.1 2109,1209.4 2109.8,1208.8 2110.7,1208.2 2111.6,1207.6 2112.5,1207.1"/>
<polyline fill="none" stroke="#0000ff" stroke-width="3.1" stroke-dasharray="8 4.9" points="338.5,1413.3 450,1413.3 470,1413.3 478,1415 492,1414.8 500,1412.8 515,1415.2 530,1413.3 670,1413.3 679,1411.3 686,1415.8 694,1413 724,1411.8 735,1415.3 742,1413 760,1411.5 775,1413.5 783.7,1413.3 817.3,1411.5 827,1414.8 832.6,1421.1 836.7,1429.4 840.4,1419.7 840.8,1403.3 842.6,1388.3 846.4,1377.5 847.5,1390.6 849,1407 850.5,1421.9 852.3,1433.1 854.6,1425.6 856.8,1416.7 862.8,1408.1 868.4,1417.4 868.7,1420.8 873.2,1419.7 876.9,1415.9 882.9,1412.9 893.3,1411.5 902.3,1413.3 911.2,1414.8 930,1414.5 946.8,1411.7 972,1414.5 1075.4,1413.7 1088,1407.5 1093.5,1420 1100.5,1435.5 1106,1421.5 1111.2,1400.5 1120,1407.5 1124.3,1414.5 1167.6,1411.7 1198.4,1418 1211,1416 1222.1,1397.7 1230.5,1400.5 1236.1,1413 1240.3,1416 1247.3,1411.7 1258.5,1411.7 1269.7,1414.5 1405.3,1414.5 1419.2,1409.8 1427.6,1406 1433.2,1416 1438.8,1424.9 1447.2,1407.5 1455.6,1414.5 1464,1410.3 1472.4,1414.5 1477.4,1426.5 1483.5,1417.3 1492,1413.7 1530,1412.6 1630.6,1413.1 1643.2,1406.1 1650.2,1425.7 1657.2,1420.1 1664.2,1408.9 1672.6,1410.3 1678.2,1415.9 1689.4,1410.3 1697.7,1410.3 1706.1,1415.9 1725.7,1412.6 1795.6,1414.5 1809.6,1411.7 1859.9,1414.5 1918.6,1411.7 1927,1419.3 1943.8,1413.7 1956.3,1410.3 1962.8,1414.5 1971.2,1408.1 1980.1,1414.5 1988.5,1416.5 2005.3,1413.1 2041.6,1414.5 2075.2,1411.7 2100.3,1414.5 2110,1410.3"/>
<path fill="#ff0000" d="M740.4 1264.2v42.2h3.5 v-42.2zM844 1264.2v42.2h1.8 v-42.2zM847.2 1264.2v42.2h1.8 v-42.2zM857 1264.2v42.2h3.2 v-42.2zM1100 1264.2v42.2h3.3 v-42.2zM1226.1 1264.2v42.2h1.7 v-42.2zM1229.4 1264.2v42.2h1.7 v-42.2zM1414.1 1264.2v42.2h1.7 v-42.2zM1419.1 1264.2v42.2h1.7 v-42.2zM1436.9 1264.2v42.2h1.5 v-42.2zM1440.1 1264.2v42.2h1.7 v-42.2zM1475.6 1264.2v42.2h1.6 v-42.2zM1480.5 1264.2v42.2h1.6 v-42.2zM1483.7 1264.2v42.2h1.6 v-42.2zM1486.9 1264.2v42.2h1.7 v-42.2zM1652.1 1264.2v42.2h1.6 v-42.2zM1655.3 1264.2v42.2h1.6 v-42.2zM1678 1264.2v42.2h1.7 v-42.2zM1682.9 1264.2v42.2h1.7 v-42.2zM1838.1 1264.2v42.2h1.7 v-42.2zM1843 1264.2v42.2h1.7 v-42.2zM1906.3 1264.2v42.2h1.6 v-42.2zM1912.8 1264.2v42.2h1.6 v-42.2zM1925.8 1264.2v42.2h1.6 v-42.2zM1932.2 1264.2v42.2h1.6 v-42.2zM1961.3 1264.2v42.2h1.6 v-42.2zM1966.2 1264.2v42.2h1.7 v-42.2z"/>
<path fill="#143c00" d="M476.3 1313v40.3h1.6 v-40.3zM481.2 1313v40.3h1.6 v-40.3zM484.5 1313v40.3h3.3 v-40.3zM684 1313v40.3h3 v-40.3zM740.4 1313v40.3h3.5 v-40.3zM748.5 1313v40.3h3.4 v-40.3zM756.6 1313v40.3h3.4 v-40.3zM764.7 1313v40.3h3.4 v-40.3zM845.8 1313v40.3h8.1 v-40.3zM858.7 1313v40.3h3.3 v-40.3zM868.3 1313v40.3h3.5 v-40.3zM899.1 1313v40.3h3.2 v-40.3zM975.3 1313v40.3h4.7 v-40.3zM981.7 1313v40.3h1.7 v-40.3zM1096.8 1313v40.3h1.5 v-40.3zM1100 1313v40.3h1.7 v-40.3zM1103.3 1313v40.3h7.7 v-40.3zM1113 1313v40.3h3.1 v-40.3zM1117.7 1313v40.3h1.6 v-40.3zM1121 1313v40.3h1.6 v-40.3zM1124.2 1313v40.3h1.7 v-40.3zM1127.5 1313v40.3h3.2 v-40.3zM1134.1 1313v40.3h3.1 v-40.3zM1143.9 1313v40.3h1.5 v-40.3zM1147.1 1313v40.3h1.7 v-40.3zM1221.2 1313v40.3h3.5 v-40.3zM1226.2 1313v40.3h1.7 v-40.3zM1234.3 1313v40.3h1.6 v-40.3zM1237.6 1313v40.3h1.5 v-40.3zM1240.8 1313v40.3h3.3 v-40.3zM1255.5 1313v40.3h1.5 v-40.3zM1258.7 1313v40.3h1.6 v-40.3zM1270 1313v40.3h1.5 v-40.3zM1273.2 1313v40.3h1.7 v-40.3zM1287.9 1313v40.3h8 v-40.3zM1299.1 1313v40.3h1.5 v-40.3zM1302.3 1313v40.3h1.7 v-40.3zM1308.9 1313v40.3h1.5 v-40.3zM1312.1 1313v40.3h1.6 v-40.3zM1407.7 1313v40.3h1.4 v-40.3zM1410.9 1313v40.3h1.5 v-40.3zM1414.1 1313v40.3h1.7 v-40.3zM1417.5 1313v40.3h3.2 v-40.3zM1422.4 1313v40.3h1.5 v-40.3zM1427.3 1313v40.3h1.5 v-40.3zM1430.5 1313v40.3h1.5 v-40.3zM1433.7 1313v40.3h1.5 v-40.3zM1449.9 1313v40.3h1.5 v-40.3zM1453.3 1313v40.3h1.5 v-40.3zM1458 1313v40.3h1.5 v-40.3zM1462.8 1313v40.3h1.5 v-40.3zM1467.7 1313v40.3h1.5 v-40.3zM1470.9 1313v40.3h1.5 v-40.3zM1474.1 1313v40.3h1.5 v-40.3zM1477.3 1313v40.3h3.2 v-40.3zM1483.9 1313v40.3h4.6 v-40.3zM1490.2 1313v40.3h4.9 v-40.3zM1498.3 1313v40.3h6.5 v-40.3zM1506.5 1313v40.3h1.6 v-40.3zM1511.3 1313v40.3h1.5 v-40.3zM1519.4 1313v40.3h1.5 v-40.3zM1522.7 1313v40.3h4.8 v-40.3zM1532.4 1313v40.3h1.5 v-40.3zM1535.6 1313v40.3h1.5 v-40.3zM1571.2 1313v40.3h1.6 v-40.3zM1576 1313v40.3h3.2 v-40.3zM1581 1313v40.3h1.6 v-40.3zM1608.4 1313v40.3h1.6 v-40.3zM1613.3 1313v40.3h1.6 v-40.3zM1643.9 1313v40.3h1.7 v-40.3zM1649 1313v40.3h1.5 v-40.3zM1652.2 1313v40.3h3.2 v-40.3zM1657.1 1313v40.3h1.5 v-40.3zM1660.3 1313v40.3h8 v-40.3zM1671.5 1313v40.3h1.5 v-40.3zM1684.5 1313v40.3h1.5 v-40.3zM1687.8 1313v40.3h3.1 v-40.3zM1700.8 1313v40.3h1.6 v-40.3zM1704 1313v40.3h1.6 v-40.3zM1707.3 1313v40.3h1.5 v-40.3zM1712 1313v40.3h1.7 v-40.3zM1755.8 1313v40.3h1.5 v-40.3zM1760.7 1313v40.3h1.5 v-40.3zM1765.6 1313v40.3h1.5 v-40.3zM1768.8 1313v40.3h3 v-40.3zM1773.7 1313v40.3h1.5 v-40.3zM1780.1 1313v40.3h1.5 v-40.3zM1783.3 1313v40.3h3.2 v-40.3zM1788.2 1313v40.3h1.5 v-40.3zM1804.4 1313v40.3h1.6 v-40.3zM1809.2 1313v40.3h1.5 v-40.3zM1822.2 1313v40.3h1.5 v-40.3zM1827.1 1313v40.3h3.2 v-40.3zM1833.5 1313v40.3h1.5 v-40.3zM1845 1313v40.3h1.5 v-40.3zM1849.7 1313v40.3h1.5 v-40.3zM1857.8 1313v40.3h3.2 v-40.3zM1862.7 1313v40.3h3.2 v-40.3zM1870.8 1313v40.3h3.2 v-40.3zM1875.7 1313v40.3h4.9 v-40.3zM1883.8 1313v40.3h1.6 v-40.3zM1898.4 1313v40.3h1.5 v-40.3zM1903.1 1313v40.3h3.2 v-40.3zM1909.7 1313v40.3h1.5 v-40.3zM1916.1 1313v40.3h1.6 v-40.3zM1921 1313v40.3h1.6 v-40.3zM1927.4 1313v40.3h1.6 v-40.3zM1930.7 1313v40.3h3.2 v-40.3zM1937.2 1313v40.3h4.8 v-40.3zM1945.2 1313v40.3h4.9 v-40.3zM1951.8 1313v40.3h6.4 v-40.3zM1959.9 1313v40.3h1.6 v-40.3zM1966.2 1313v40.3h1.7 v-40.3zM1971.1 1313v40.3h3.1 v-40.3zM1976.1 1313v40.3h1.5 v-40.3zM1979.2 1313v40.3h4.9 v-40.3zM1985.7 1313v40.3h1.5 v-40.3zM1989 1313v40.3h3.2 v-40.3zM1995.3 1313v40.3h3.4 v-40.3zM2002 1313v40.3h3.2 v-40.3zM2006.8 1313v40.3h1.6 v-40.3zM2011.6 1313v40.3h1.6 v-40.3zM2027.8 1313v40.3h1.7 v-40.3zM2031.1 1313v40.3h1.7 v-40.3zM2034.3 1313v40.3h1.6 v-40.3zM2037.6 1313v40.3h1.5 v-40.3zM2060.1 1313v40.3h1.7 v-40.3zM2066.6 1313v40.3h1.6 v-40.3z"/>
<g stroke="#000" stroke-width="4.8" fill="none" stroke-linecap="butt">
<rect x="338.5" y="72.5" width="1774.0" height="1429.0"/>
<path stroke-width="4.6" d="M338.5 1501.5V1530.5M560.2 1501.5V1530.5M782.0 1501.5V1530.5M1003.8 1501.5V1530.5M1225.5 1501.5V1530.5M1447.2 1501.5V1530.5M1669.0 1501.5V1530.5M1890.8 1501.5V1530.5M2112.5 1501.5V1530.5M449.4 1501.5V1516M671.1 1501.5V1516M892.9 1501.5V1516M1114.6 1501.5V1516M1336.4 1501.5V1516M1558.1 1501.5V1516M1779.9 1501.5V1516M2001.6 1501.5V1516M338.5 1501.5H310M338.5 1263.3H310M338.5 1025.2H310M338.5 787.0H310M338.5 548.8H310M338.5 310.7H310M338.5 72.5H310M338.5 1382.4H322.5M338.5 1144.2H322.5M338.5 906.1H322.5M338.5 667.9H322.5M338.5 429.8H322.5M338.5 191.6H322.5"/></g>
<g font-size="59.5" text-anchor="middle">
<text x="338.5" y="1594.3">10</text>
<text x="560.2" y="1594.3">20</text>
<text x="782.0" y="1594.3">30</text>
<text x="1003.8" y="1594.3">40</text>
<text x="1225.5" y="1594.3">50</text>
<text x="1447.2" y="1594.3">60</text>
<text x="1669.0" y="1594.3">70</text>
<text x="1890.8" y="1594.3">80</text>
<text x="2112.5" y="1594.3">90</text>
</g>
<g transform="translate(263.7 1506.6) rotate(-60)"><text font-size="62" text-anchor="end">-1.5x10</text><text font-size="36" x="-2.5" y="-33">4</text></g>
<g transform="translate(272.7 1251.5) rotate(-60)"><text font-size="62" text-anchor="end">0.0</text></g>
<g transform="translate(263.7 1030.3) rotate(-60)"><text font-size="62" text-anchor="end">1.5x10</text><text font-size="36" x="-2.5" y="-33">4</text></g>
<g transform="translate(263.7 792.1) rotate(-60)"><text font-size="62" text-anchor="end">3.0x10</text><text font-size="36" x="-2.5" y="-33">4</text></g>
<g transform="translate(263.7 553.9) rotate(-60)"><text font-size="62" text-anchor="end">4.5x10</text><text font-size="36" x="-2.5" y="-33">4</text></g>
<g transform="translate(263.7 315.8) rotate(-60)"><text font-size="62" text-anchor="end">6.0x10</text><text font-size="36" x="-2.5" y="-33">4</text></g>
<g transform="translate(263.7 77.6) rotate(-60)"><text font-size="62" text-anchor="end">7.5x10</text><text font-size="36" x="-2.5" y="-33">4</text></g>
<text x="1225" y="1709" font-size="74.5" text-anchor="middle">2theta (degrees)</text>
<text transform="translate(103.4 754) rotate(-90)" font-size="74.5" text-anchor="middle">Intensity (counts)</text>
<text x="398.5" y="167" font-size="46.5"><tspan class="i" font-size="47">R</tspan><tspan class="i" font-size="45.5" dx="1.9" dy="24.7">wp</tspan><tspan dy="-24.7" dx="1"> =</tspan><tspan dx="-1"> 6.01%, </tspan><tspan class="i" font-size="47" dx="1.5">R</tspan><tspan class="i" font-size="45.5" dx="1.1" dy="24.7">e</tspan><tspan dy="-24.7" dx="-0.5"> = 2.26%, </tspan><tspan dx="1" font-family="'Noto Serif CJK SC',serif" font-size="50">χ</tspan><tspan font-size="31.5" dx="2" dy="-36">2</tspan><tspan dx="3" dy="36"> =</tspan><tspan dx="0.7" font-size="46"> 7.08</tspan></text>
<text x="1717.6" y="856.3" font-size="74.5" text-anchor="middle">NiSe - sederholmite</text>
<text x="1714" y="948" font-size="74.5" text-anchor="middle">space group <tspan class="i">P</tspan>6<tspan font-size="43" dy="24.7">3</tspan><tspan dy="-24.7">/</tspan><tspan class="i">mmc</tspan></text>
<rect x="1602.5" y="119" width="463.8" height="552" fill="#fff" stroke="#000" stroke-width="1.7"/>
<circle cx="1694" cy="170.5" r="4.7" fill="none" stroke="#000" stroke-width="1.6"/>
<path d="M1610 282H1779" stroke="#ff0000" stroke-width="3.6"/>
<path d="M1610 395.4H1778" stroke="#0000ff" stroke-width="3.3" stroke-dasharray="9.6 6.2"/>
<path d="M1694.9 487.2V527.8" stroke="#143c00" stroke-width="1.7"/>
<path d="M1694.9 599.4V640" stroke="#ff0000" stroke-width="1.7"/>
<g font-size="74.5">
<text x="1796.5" y="194">I<tspan font-size="45" dy="25">obs</tspan></text>
<text x="1796.5" y="308">I<tspan font-size="45" dy="25">calc</tspan></text>
<text x="1796.5" y="419.4">I<tspan font-size="45" dy="25">calc</tspan><tspan dy="-25"> - I</tspan><tspan font-size="45" dy="25">obs</tspan></text>
<text x="1798.5" y="532.5">Ni<tspan font-size="45" dy="25">3</tspan><tspan dy="-25">Se</tspan><tspan font-size="45" dy="25">4</tspan></text>
<text x="1798.5" y="643.5">NiSe</text>
</g>
</svg></body></html>
